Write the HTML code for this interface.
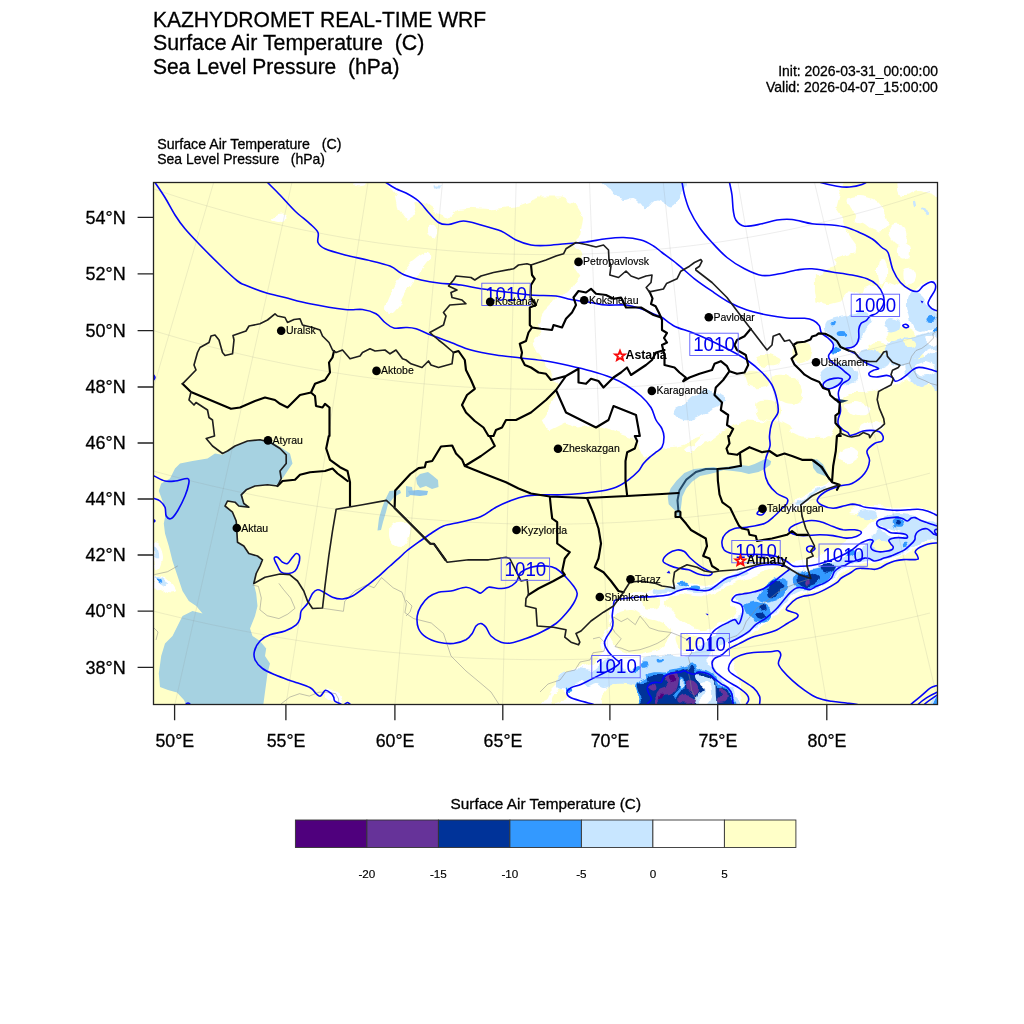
<!DOCTYPE html>
<html lang="en"><head><meta charset="utf-8"><title>KAZHYDROMET REAL-TIME WRF</title>
<style>
html,body{margin:0;padding:0;background:#fff;}
body{width:1024px;height:1024px;overflow:hidden;}
svg{display:block;will-change:transform;}
text{font-family:"Liberation Sans",sans-serif;fill:#000;}
.t1,.t2,.ax{stroke:#000;stroke-width:0.3px;}
.cb,.city{stroke:#000;stroke-width:0.15px;}
.t1{font-size:21.5px;}
.t2{font-size:14.4px;}
.ax{font-size:18.2px;}
.cb{font-size:11.7px;text-anchor:middle;}
.city{font-size:10.5px;}
.cap{font-size:12.3px;font-weight:bold;}
.cl{font-size:20.3px;fill:#0000f0;text-anchor:middle;}
</style></head><body>
<svg width="1024" height="1024" viewBox="0 0 1024 1024">
<rect width="1024" height="1024" fill="#fff"/>
<text class="t1" x="152.9" y="26.8" textLength="333.3" lengthAdjust="spacingAndGlyphs">KAZHYDROMET REAL-TIME WRF</text>
<text class="t1" x="152.9" y="50.4" textLength="271.5" lengthAdjust="spacingAndGlyphs" xml:space="preserve">Surface Air Temperature  (C)</text>
<text class="t1" x="152.9" y="73.9" textLength="246.5" lengthAdjust="spacingAndGlyphs" xml:space="preserve">Sea Level Pressure  (hPa)</text>
<text class="t2" x="778.2" y="75.9" textLength="159.7" lengthAdjust="spacingAndGlyphs">Init: 2026-03-31_00:00:00</text>
<text class="t2" x="766" y="91.5" textLength="171.9" lengthAdjust="spacingAndGlyphs">Valid: 2026-04-07_15:00:00</text>
<text class="t2" x="157.2" y="148.7" textLength="184.3" lengthAdjust="spacingAndGlyphs" xml:space="preserve">Surface Air Temperature   (C)</text>
<text class="t2" x="157.2" y="164.2" textLength="167.8" lengthAdjust="spacingAndGlyphs" xml:space="preserve">Sea Level Pressure   (hPa)</text>
<defs><clipPath id="mc"><rect x="153.5" y="182.5" width="784.0" height="522.0"/></clipPath></defs>
<g clip-path="url(#mc)">
<rect x="150" y="180" width="792" height="528" fill="#ffffc8"/>
<!-- 10_fill.svg -->
<defs><filter id="rough" x="150" y="178" width="792" height="530" filterUnits="userSpaceOnUse" color-interpolation-filters="sRGB"><feTurbulence type="fractalNoise" baseFrequency="0.09" numOctaves="2" seed="7" result="n"/><feDisplacementMap in="SourceGraphic" in2="n" scale="7" xChannelSelector="R" yChannelSelector="G"/></filter></defs>
<g filter="url(#rough)">
<rect x="140" y="170" width="812" height="546" fill="#ffffc8"/>
<path d="M384.0 180.0 L846.0 180.0 L840.0 190.0 L835.4 207.8 L841.3 216.6 L845.7 229.8 L851.5 238.6 L855.9 244.5 L854.5 253.2 L842.7 256.2 L833.9 259.0 L838.3 265.0 L828.0 268.0 L819.3 276.7 L814.9 273.7 L814.9 291.3 L816.4 301.6 L828.1 304.5 L839.8 301.6 L848.6 291.3 L861.8 294.3 L863.2 288.4 L872.0 285.5 L880.8 288.4 L885.2 282.5 L892.5 285.5 L898.4 282.5 L905.7 288.4 L914.5 291.3 L921.8 285.5 L930.6 281.0 L941.0 282.0 L941.0 387.5 L923.0 385.0 L908.0 380.0 L893.0 387.5 L880.0 389.0 L865.0 392.0 L848.0 392.0 L840.0 400.0 L838.0 412.0 L836.0 425.0 L834.5 431.0 L822.8 438.0 L808.7 435.6 L794.7 433.3 L790.0 426.2 L780.6 421.6 L771.2 421.6 L747.8 420.4 L733.7 423.9 L724.4 430.9 L705.6 433.3 L686.9 440.3 L663.4 447.3 L655.0 452.0 L644.1 457.7 L638.2 446.0 L632.3 437.2 L614.8 431.3 L597.2 425.5 L576.7 428.4 L565.0 422.5 L547.4 431.3 L541.5 419.6 L550.3 405.0 L559.1 387.4 L553.2 378.6 L547.4 366.9 L538.6 355.2 L532.7 343.4 L541.5 331.7 L537.0 325.0 L539.2 323.6 L545.1 308.9 L556.8 297.2 L568.5 291.3 L580.3 276.7 L574.4 267.9 L583.2 253.2 L571.5 244.5 L580.3 235.7 L583.2 218.1 L574.4 203.4 L562.7 197.6 L539.2 197.6 L515.8 206.4 L492.4 209.3 L468.9 207.8 L457.2 209.3 L448.4 218.1 L436.7 212.2 L425.0 203.4 L413.2 203.4 L416.2 215.2 L407.4 221.0 L398.6 209.3 L395.7 194.6Z" fill="#ffffff"/>
<path d="M757.0 356.0C758.8 354.7 764.3 353.7 768.0 354.0C771.7 354.3 777.3 356.2 779.0 358.0C780.7 359.8 780.2 363.7 778.0 365.0C775.8 366.3 769.5 366.5 766.0 366.0C762.5 365.5 758.5 363.7 757.0 362.0C755.5 360.3 755.2 357.3 757.0 356.0Z" fill="#ffffc8"/>
<path d="M745.0 372.0C746.3 369.3 752.2 369.7 756.0 370.0C759.8 370.3 765.7 371.7 768.0 374.0C770.3 376.3 771.3 381.7 770.0 384.0C768.7 386.3 763.7 387.7 760.0 388.0C756.3 388.3 750.5 388.7 748.0 386.0C745.5 383.3 743.7 374.7 745.0 372.0Z" fill="#ffffc8"/>
<path d="M772.0 378.0C773.5 374.5 780.7 374.7 785.0 375.0C789.3 375.3 795.0 377.2 798.0 380.0C801.0 382.8 803.0 388.2 803.0 392.0C803.0 395.8 800.8 401.0 798.0 403.0C795.2 405.0 789.7 405.2 786.0 404.0C782.3 402.8 778.3 400.3 776.0 396.0C773.7 391.7 770.5 381.5 772.0 378.0Z" fill="#ffffc8"/>
<path d="M757.0 402.0C758.7 399.5 764.3 399.3 768.0 400.0C771.7 400.7 777.0 403.3 779.0 406.0C781.0 408.7 781.8 413.5 780.0 416.0C778.2 418.5 771.7 421.2 768.0 421.0C764.3 420.8 759.8 418.2 758.0 415.0C756.2 411.8 755.3 404.5 757.0 402.0Z" fill="#ffffc8"/>
<path d="M795.0 343.0C796.8 340.8 802.2 341.2 805.0 342.0C807.8 342.8 811.2 345.3 812.0 348.0C812.8 350.7 812.0 355.7 810.0 358.0C808.0 360.3 802.7 362.5 800.0 362.0C797.3 361.5 794.8 358.2 794.0 355.0C793.2 351.8 793.2 345.2 795.0 343.0Z" fill="#ffffc8"/>
<path d="M890.0 330.0C892.0 328.0 896.3 326.0 900.0 326.0C903.7 326.0 909.0 327.7 912.0 330.0C915.0 332.3 918.7 337.3 918.0 340.0C917.3 342.7 911.7 345.3 908.0 346.0C904.3 346.7 899.3 345.3 896.0 344.0C892.7 342.7 889.0 340.3 888.0 338.0C887.0 335.7 888.0 332.0 890.0 330.0Z" fill="#ffffc8"/>
<path d="M868.0 345.0C869.3 342.7 876.7 341.5 880.0 342.0C883.3 342.5 887.3 345.7 888.0 348.0C888.7 350.3 886.7 354.7 884.0 356.0C881.3 357.3 874.7 357.8 872.0 356.0C869.3 354.2 866.7 347.3 868.0 345.0Z" fill="#ffffc8"/>
<path d="M900.0 352.0C901.7 350.0 910.8 349.3 915.0 350.0C919.2 350.7 924.2 353.7 925.0 356.0C925.8 358.3 923.3 363.0 920.0 364.0C916.7 365.0 908.3 364.0 905.0 362.0C901.7 360.0 898.3 354.0 900.0 352.0Z" fill="#ffffc8"/>
<path d="M271.0 219.0C270.5 217.7 273.8 214.8 276.0 214.0C278.2 213.2 282.5 213.2 284.0 214.0C285.5 214.8 285.8 217.7 285.0 219.0C284.2 220.3 281.3 222.0 279.0 222.0C276.7 222.0 271.5 220.3 271.0 219.0Z" fill="#ffffff"/>
<path d="M428.0 226.0C428.8 224.2 432.5 223.2 434.0 224.0C435.5 224.8 437.0 228.7 437.0 231.0C437.0 233.3 435.3 237.3 434.0 238.0C432.7 238.7 430.0 237.0 429.0 235.0C428.0 233.0 427.2 227.8 428.0 226.0Z" fill="#ffffff"/>
<path d="M425.0 253.0C428.0 252.3 431.3 254.3 430.0 258.0C428.7 261.7 420.8 269.7 417.0 275.0C413.2 280.3 410.0 285.0 407.0 290.0C404.0 295.0 401.7 301.2 399.0 305.0C396.3 308.8 393.2 312.5 391.0 313.0C388.8 313.5 385.8 311.5 386.0 308.0C386.2 304.5 389.3 297.5 392.0 292.0C394.7 286.5 398.7 280.0 402.0 275.0C405.3 270.0 408.2 265.7 412.0 262.0C415.8 258.3 422.0 253.7 425.0 253.0Z" fill="#ffffff"/>
<path d="M355.0 184.0C356.5 183.4 363.5 183.1 365.0 183.5C366.5 183.9 365.5 185.9 364.0 186.5C362.5 187.1 357.5 187.4 356.0 187.0C354.5 186.6 353.5 184.6 355.0 184.0Z" fill="#ffffff"/>
<path d="M848.0 200.0C849.3 198.0 854.3 196.3 858.0 196.0C861.7 195.7 866.7 197.0 870.0 198.0C873.3 199.0 875.7 200.0 878.0 202.0C880.3 204.0 882.3 206.7 884.0 210.0C885.7 213.3 888.3 218.3 888.0 222.0C887.7 225.7 884.7 230.7 882.0 232.0C879.3 233.3 875.2 231.3 872.0 230.0C868.8 228.7 865.8 225.3 863.0 224.0C860.2 222.7 856.2 223.7 855.0 222.0C853.8 220.3 856.8 216.3 856.0 214.0C855.2 211.7 851.3 210.3 850.0 208.0C848.7 205.7 846.7 202.0 848.0 200.0Z" fill="#ffffff"/>
<path d="M890.0 226.0C891.5 224.7 895.3 224.3 898.0 225.0C900.7 225.7 904.5 227.5 906.0 230.0C907.5 232.5 908.0 237.5 907.0 240.0C906.0 242.5 902.3 245.0 900.0 245.0C897.7 245.0 894.8 242.0 893.0 240.0C891.2 238.0 889.5 235.3 889.0 233.0C888.5 230.7 888.5 227.3 890.0 226.0Z" fill="#ffffff"/>
<path d="M899.0 246.0C900.3 244.5 904.2 242.3 906.0 243.0C907.8 243.7 909.7 247.5 910.0 250.0C910.3 252.5 909.7 256.5 908.0 258.0C906.3 259.5 901.7 260.0 900.0 259.0C898.3 258.0 898.2 254.2 898.0 252.0C897.8 249.8 897.7 247.5 899.0 246.0Z" fill="#ffffff"/>
<path d="M879.0 262.0C880.0 259.8 882.7 258.0 884.0 259.0C885.3 260.0 886.7 264.5 887.0 268.0C887.3 271.5 887.2 277.5 886.0 280.0C884.8 282.5 881.3 284.3 880.0 283.0C878.7 281.7 878.2 275.5 878.0 272.0C877.8 268.5 878.0 264.2 879.0 262.0Z" fill="#ffffff"/>
<path d="M904.0 270.0C905.2 267.7 910.0 267.2 912.0 268.0C914.0 268.8 915.8 272.7 916.0 275.0C916.2 277.3 914.8 280.8 913.0 282.0C911.2 283.2 906.5 284.0 905.0 282.0C903.5 280.0 902.8 272.3 904.0 270.0Z" fill="#ffffff"/>
<path d="M901.0 180.0C908.2 178.0 934.3 176.8 941.0 180.0C947.7 183.2 943.2 196.8 941.0 199.0C938.8 201.2 931.7 194.5 928.0 193.0C924.3 191.5 922.5 189.7 919.0 190.0C915.5 190.3 910.5 194.7 907.0 195.0C903.5 195.3 899.0 194.5 898.0 192.0C897.0 189.5 893.8 182.0 901.0 180.0Z" fill="#ffffff"/>
<path d="M914.0 200.0C914.2 198.7 915.5 198.0 916.0 199.0C916.5 200.0 917.2 204.7 917.0 206.0C916.8 207.3 915.5 208.0 915.0 207.0C914.5 206.0 913.8 201.3 914.0 200.0Z" fill="#c8e6ff"/>
<path d="M922.0 208.0C921.7 206.5 923.8 206.0 925.0 207.0C926.2 208.0 928.7 212.5 929.0 214.0C929.3 215.5 928.2 217.0 927.0 216.0C925.8 215.0 922.3 209.5 922.0 208.0Z" fill="#c8e6ff"/>
<path d="M791.7 430.0C797.5 429.0 824.8 429.0 830.8 430.0C836.8 431.0 831.1 434.7 828.0 436.0C824.9 437.3 817.3 438.0 812.0 438.0C806.7 438.0 799.4 437.3 796.0 436.0C792.6 434.7 785.9 431.0 791.7 430.0Z" fill="#ffffff"/>
<path d="M686.2 449.5C686.9 448.1 691.1 446.3 694.0 443.7C696.9 441.1 700.5 435.9 703.8 434.0C707.1 432.1 710.6 432.3 713.6 432.0C716.6 431.7 722.3 430.7 722.0 432.0C721.7 433.3 715.7 437.7 712.0 440.0C708.3 442.3 703.7 444.0 700.0 446.0C696.3 448.0 692.3 451.4 690.0 452.0C687.7 452.6 685.6 450.9 686.2 449.5Z" fill="#ffffff"/>
<path d="M845.0 405.0C845.7 403.0 852.2 401.5 856.0 402.0C859.8 402.5 866.3 405.7 868.0 408.0C869.7 410.3 868.7 415.0 866.0 416.0C863.3 417.0 855.5 415.8 852.0 414.0C848.5 412.2 844.3 407.0 845.0 405.0Z" fill="#ffffff"/>
<path d="M862.0 425.0C864.7 423.2 872.3 420.5 876.0 421.0C879.7 421.5 884.7 425.8 884.0 428.0C883.3 430.2 876.0 433.3 872.0 434.0C868.0 434.7 861.7 433.5 860.0 432.0C858.3 430.5 859.3 426.8 862.0 425.0Z" fill="#ffffff"/>
<path d="M326.0 690.0C327.5 689.5 330.8 689.0 333.0 690.0C335.2 691.0 337.5 693.8 339.0 696.0C340.5 698.2 342.5 701.7 342.0 703.0C341.5 704.3 338.3 704.8 336.0 704.0C333.7 703.2 330.0 699.8 328.0 698.0C326.0 696.2 324.3 694.3 324.0 693.0C323.7 691.7 324.5 690.5 326.0 690.0Z" fill="#ffffff"/>
<path d="M392.0 524.0C394.3 522.3 400.0 521.3 403.0 522.0C406.0 522.7 409.2 525.0 410.0 528.0C410.8 531.0 409.7 536.7 408.0 540.0C406.3 543.3 402.8 547.7 400.0 548.0C397.2 548.3 392.8 544.7 391.0 542.0C389.2 539.3 388.8 535.0 389.0 532.0C389.2 529.0 389.7 525.7 392.0 524.0Z" fill="#ffffff"/>
<path d="M154.0 543.0C155.0 539.5 158.5 542.8 160.0 545.0C161.5 547.2 163.0 552.2 163.0 556.0C163.0 559.8 161.5 566.3 160.0 568.0C158.5 569.7 155.0 570.2 154.0 566.0C153.0 561.8 153.0 546.5 154.0 543.0Z" fill="#ffffff"/>
<path d="M154.0 576.0C155.7 574.2 161.0 575.7 164.0 577.0C167.0 578.3 170.0 581.5 172.0 584.0C174.0 586.5 176.7 590.5 176.0 592.0C175.3 593.5 170.7 593.7 168.0 593.0C165.3 592.3 162.3 588.8 160.0 588.0C157.7 587.2 155.0 590.0 154.0 588.0C153.0 586.0 152.3 577.8 154.0 576.0Z" fill="#ffffff"/>
<path d="M612.0 603.0 L625.0 596.0 L640.0 592.0 L655.0 590.0 L668.0 587.0 L680.0 582.0 L695.0 584.0 L708.0 585.0 L718.0 579.0 L730.0 573.0 L745.0 568.0 L760.0 563.0 L775.0 560.0 L790.0 563.0 L805.0 560.0 L820.0 555.0 L835.0 548.0 L848.0 540.0 L860.0 533.0 L870.0 525.0 L878.0 516.0 L862.0 514.0 L850.0 512.0 L858.0 506.0 L875.0 506.0 L895.0 507.0 L910.0 506.0 L925.0 508.0 L941.0 512.0 L941.0 542.0 L926.0 543.0 L916.0 549.0 L906.0 555.0 L894.0 559.0 L881.0 562.0 L868.0 562.5 L856.0 565.0 L846.0 569.5 L840.0 575.0 L834.0 582.0 L824.0 588.0 L813.0 592.5 L801.0 594.5 L794.0 598.0 L786.0 606.0 L778.0 614.0 L770.0 620.0 L760.0 627.0 L750.0 635.0 L740.0 641.0 L731.0 646.0 L727.0 652.0 L733.0 662.0 L738.0 674.0 L741.0 686.0 L742.0 707.0 L540.0 707.0 L545.0 700.0 L550.0 690.0 L556.0 684.0 L560.0 674.0 L575.0 668.0 L590.0 664.0 L598.0 658.0 L603.0 650.0 L600.0 640.0 L606.0 630.0 L610.0 618.0 L610.0 608.0Z" fill="#ffffff"/>
<path d="M614.0 618.0C615.3 616.0 617.0 613.3 620.0 612.0C623.0 610.7 628.7 609.7 632.0 610.0C635.3 610.3 637.3 612.7 640.0 614.0C642.7 615.3 644.7 616.7 648.0 618.0C651.3 619.3 656.0 620.0 660.0 622.0C664.0 624.0 670.7 627.0 672.0 630.0C673.3 633.0 670.0 637.0 668.0 640.0C666.0 643.0 663.3 646.0 660.0 648.0C656.7 650.0 652.0 651.0 648.0 652.0C644.0 653.0 639.7 654.0 636.0 654.0C632.3 654.0 629.0 653.0 626.0 652.0C623.0 651.0 620.3 650.0 618.0 648.0C615.7 646.0 613.7 642.7 612.0 640.0C610.3 637.3 608.0 634.7 608.0 632.0C608.0 629.3 611.0 626.3 612.0 624.0C613.0 621.7 612.7 620.0 614.0 618.0Z" fill="#ffffc8"/>
<path d="M668.0 598.0C670.5 596.0 675.5 594.3 680.0 594.0C684.5 593.7 690.0 595.7 695.0 596.0C700.0 596.3 705.5 597.0 710.0 596.0C714.5 595.0 718.3 592.0 722.0 590.0C725.7 588.0 728.7 585.7 732.0 584.0C735.3 582.3 738.7 581.0 742.0 580.0C745.3 579.0 748.2 579.3 752.0 578.0C755.8 576.7 760.7 574.0 765.0 572.0C769.3 570.0 774.2 566.8 778.0 566.0C781.8 565.2 787.0 565.8 788.0 567.0C789.0 568.2 786.0 570.8 784.0 573.0C782.0 575.2 778.7 577.8 776.0 580.0C773.3 582.2 771.0 584.2 768.0 586.0C765.0 587.8 761.8 589.7 758.0 591.0C754.2 592.3 749.0 593.2 745.0 594.0C741.0 594.8 736.5 594.3 734.0 596.0C731.5 597.7 729.7 602.0 730.0 604.0C730.3 606.0 735.3 606.0 736.0 608.0C736.7 610.0 736.3 613.7 734.0 616.0C731.7 618.3 725.7 620.0 722.0 622.0C718.3 624.0 715.7 626.7 712.0 628.0C708.3 629.3 703.7 630.3 700.0 630.0C696.3 629.7 693.3 627.7 690.0 626.0C686.7 624.3 683.0 622.3 680.0 620.0C677.0 617.7 674.5 614.3 672.0 612.0C669.5 609.7 665.7 608.3 665.0 606.0C664.3 603.7 665.5 600.0 668.0 598.0Z" fill="#ffffc8"/>
<path d="M640.0 598.0C641.3 596.0 648.7 595.7 652.0 596.0C655.3 596.3 659.3 598.0 660.0 600.0C660.7 602.0 658.7 606.7 656.0 608.0C653.3 609.3 646.7 609.7 644.0 608.0C641.3 606.3 638.7 600.0 640.0 598.0Z" fill="#ffffc8"/>
<path d="M676.0 636.0C677.7 633.7 686.0 633.3 690.0 634.0C694.0 634.7 699.3 637.7 700.0 640.0C700.7 642.3 697.3 646.7 694.0 648.0C690.7 649.3 683.0 650.0 680.0 648.0C677.0 646.0 674.3 638.3 676.0 636.0Z" fill="#ffffc8"/>
<path d="M552.0 694.0C553.7 691.7 559.7 689.3 562.0 690.0C564.3 690.7 566.3 695.7 566.0 698.0C565.7 700.3 562.3 703.0 560.0 704.0C557.7 705.0 553.3 705.7 552.0 704.0C550.7 702.3 550.3 696.3 552.0 694.0Z" fill="#ffffc8"/>
<path d="M786.0 510.0C786.3 508.0 791.3 503.0 795.0 500.0C798.7 497.0 803.8 494.3 808.0 492.0C812.2 489.7 816.3 487.7 820.0 486.0C823.7 484.3 827.3 482.3 830.0 482.0C832.7 481.7 836.3 482.7 836.0 484.0C835.7 485.3 831.5 487.8 828.0 490.0C824.5 492.2 819.2 494.5 815.0 497.0C810.8 499.5 806.7 502.5 803.0 505.0C799.3 507.5 795.8 511.2 793.0 512.0C790.2 512.8 785.7 512.0 786.0 510.0Z" fill="#ffffff"/>
<path d="M795.0 504.0C796.3 502.3 802.2 498.5 806.0 496.0C809.8 493.5 814.7 490.7 818.0 489.0C821.3 487.3 825.7 485.7 826.0 486.0C826.3 486.3 823.0 488.8 820.0 491.0C817.0 493.2 811.7 496.5 808.0 499.0C804.3 501.5 800.2 505.2 798.0 506.0C795.8 506.8 793.7 505.7 795.0 504.0Z" fill="#c8e6ff"/>
<path d="M660.0 436.0C665.0 434.3 685.7 434.7 690.0 436.0C694.3 437.3 689.0 442.2 686.0 444.0C683.0 445.8 676.3 446.7 672.0 447.0C667.7 447.3 662.0 447.8 660.0 446.0C658.0 444.2 655.0 437.7 660.0 436.0Z" fill="#ffffff"/>
<path d="M840.0 452.0C842.0 450.0 848.7 447.5 852.0 448.0C855.3 448.5 860.3 452.7 860.0 455.0C859.7 457.3 853.3 461.2 850.0 462.0C846.7 462.8 841.7 461.7 840.0 460.0C838.3 458.3 838.0 454.0 840.0 452.0Z" fill="#ffffff"/>
<path d="M606.0 180.0C617.8 178.3 668.5 177.6 681.0 180.0C693.5 182.4 682.5 190.2 681.0 194.6C679.5 199.0 675.9 205.4 672.0 206.4C668.1 207.4 661.9 200.0 657.6 200.5C653.3 201.0 648.8 208.7 646.0 209.3C643.2 209.9 643.1 205.9 641.0 204.0C638.9 202.1 636.4 198.7 633.5 198.0C630.6 197.3 626.8 200.3 623.5 200.0C620.2 199.7 615.8 197.7 613.5 196.0C611.2 194.3 611.2 192.7 610.0 190.0C608.8 187.3 594.2 181.7 606.0 180.0Z" fill="#c8e6ff"/>
<path d="M433.5 184.5 L442.0 184.5 L441.0 187.5 L434.0 187.5Z" fill="#c8e6ff"/>
<path d="M692.0 396.0C694.7 394.0 696.7 392.8 700.0 392.0C703.3 391.2 708.3 390.7 712.0 391.0C715.7 391.3 719.7 392.5 722.0 394.0C724.3 395.5 726.3 398.0 726.0 400.0C725.7 402.0 722.3 404.3 720.0 406.0C717.7 407.7 714.7 408.7 712.0 410.0C709.3 411.3 707.0 412.5 704.0 414.0C701.0 415.5 697.7 418.0 694.0 419.0C690.3 420.0 685.3 420.7 682.0 420.0C678.7 419.3 675.0 417.0 674.0 415.0C673.0 413.0 674.3 409.8 676.0 408.0C677.7 406.2 681.3 406.0 684.0 404.0C686.7 402.0 689.3 398.0 692.0 396.0Z" fill="#c8e6ff"/>
<path d="M664.0 186.0C666.2 183.5 673.5 183.3 676.0 185.0C678.5 186.7 680.0 192.7 679.0 196.0C678.0 199.3 672.7 204.3 670.0 205.0C667.3 205.7 664.0 203.2 663.0 200.0C662.0 196.8 661.8 188.5 664.0 186.0Z" fill="#c8e6ff"/>
<path d="M826.0 322.0C827.8 320.0 831.0 319.2 835.0 318.0C839.0 316.8 845.5 316.0 850.0 315.0C854.5 314.0 858.7 311.8 862.0 312.0C865.3 312.2 868.3 314.3 870.0 316.0C871.7 317.7 872.7 319.7 872.0 322.0C871.3 324.3 868.0 327.0 866.0 330.0C864.0 333.0 862.3 337.2 860.0 340.0C857.7 342.8 855.0 345.3 852.0 347.0C849.0 348.7 845.0 350.3 842.0 350.0C839.0 349.7 836.3 347.0 834.0 345.0C831.7 343.0 829.7 340.5 828.0 338.0C826.3 335.5 824.3 332.7 824.0 330.0C823.7 327.3 824.2 324.0 826.0 322.0Z" fill="#c8e6ff"/>
<path d="M911.0 292.0C913.7 290.8 919.2 293.8 922.0 296.0C924.8 298.2 925.5 302.3 928.0 305.0C930.5 307.7 934.8 309.8 937.0 312.0C939.2 314.2 940.3 314.7 941.0 318.0C941.7 321.3 942.8 330.3 941.0 332.0C939.2 333.7 933.5 328.0 930.0 328.0C926.5 328.0 923.0 332.3 920.0 332.0C917.0 331.7 914.0 328.8 912.0 326.0C910.0 323.2 909.0 318.8 908.0 315.0C907.0 311.2 905.5 306.8 906.0 303.0C906.5 299.2 908.3 293.2 911.0 292.0Z" fill="#c8e6ff"/>
<path d="M890.0 342.0C892.7 339.7 896.3 338.8 900.0 338.0C903.7 337.2 907.8 337.8 912.0 337.0C916.2 336.2 920.2 334.2 925.0 333.0C929.8 331.8 938.3 327.8 941.0 330.0C943.7 332.2 942.8 342.7 941.0 346.0C939.2 349.3 933.5 348.3 930.0 350.0C926.5 351.7 923.3 354.0 920.0 356.0C916.7 358.0 913.3 360.3 910.0 362.0C906.7 363.7 903.3 366.0 900.0 366.0C896.7 366.0 892.7 364.3 890.0 362.0C887.3 359.7 884.0 355.3 884.0 352.0C884.0 348.7 887.3 344.3 890.0 342.0Z" fill="#c8e6ff"/>
<path d="M905.0 364.0C906.5 361.7 911.7 360.2 915.0 359.0C918.3 357.8 920.7 358.2 925.0 357.0C929.3 355.8 938.3 346.5 941.0 352.0C943.7 357.5 942.8 384.5 941.0 390.0C939.2 395.5 933.5 385.5 930.0 385.0C926.5 384.5 923.0 387.7 920.0 387.0C917.0 386.3 914.3 383.3 912.0 381.0C909.7 378.7 907.2 375.8 906.0 373.0C904.8 370.2 903.5 366.3 905.0 364.0Z" fill="#c8e6ff"/>
<path d="M884.0 322.0C884.7 319.7 889.3 318.0 892.0 318.0C894.7 318.0 899.0 320.0 900.0 322.0C901.0 324.0 900.0 328.3 898.0 330.0C896.0 331.7 890.3 333.3 888.0 332.0C885.7 330.7 883.3 324.3 884.0 322.0Z" fill="#c8e6ff"/>
<path d="M915.0 366.0C915.8 363.7 921.8 362.0 925.0 362.0C928.2 362.0 932.8 364.0 934.0 366.0C935.2 368.0 934.3 372.3 932.0 374.0C929.7 375.7 922.8 377.3 920.0 376.0C917.2 374.7 914.2 368.3 915.0 366.0Z" fill="#ffffff"/>
<path d="M924.0 338.0C924.7 336.3 931.7 335.3 934.0 336.0C936.3 336.7 938.7 340.3 938.0 342.0C937.3 343.7 932.3 346.7 930.0 346.0C927.7 345.3 923.3 339.7 924.0 338.0Z" fill="#ffffff"/>
<path d="M822.0 372.0C823.7 369.7 827.0 367.7 830.0 366.0C833.0 364.3 836.7 362.0 840.0 362.0C843.3 362.0 847.0 364.3 850.0 366.0C853.0 367.7 857.0 369.7 858.0 372.0C859.0 374.3 858.0 378.0 856.0 380.0C854.0 382.0 849.3 382.7 846.0 384.0C842.7 385.3 839.3 387.7 836.0 388.0C832.7 388.3 828.7 387.3 826.0 386.0C823.3 384.7 820.7 382.3 820.0 380.0C819.3 377.7 820.3 374.3 822.0 372.0Z" fill="#c8e6ff"/>
<path d="M858.0 352.0C859.0 349.7 864.3 348.0 868.0 348.0C871.7 348.0 876.3 350.0 880.0 352.0C883.7 354.0 889.3 357.3 890.0 360.0C890.7 362.7 887.0 367.0 884.0 368.0C881.0 369.0 875.7 367.0 872.0 366.0C868.3 365.0 864.3 364.3 862.0 362.0C859.7 359.7 857.0 354.3 858.0 352.0Z" fill="#c8e6ff"/>
<path d="M902.0 341.0C902.7 339.7 909.7 338.5 912.0 339.0C914.3 339.5 916.7 342.7 916.0 344.0C915.3 345.3 910.3 347.5 908.0 347.0C905.7 346.5 901.3 342.3 902.0 341.0Z" fill="#ffffc8"/>
<ellipse cx="833.5" cy="323.5" rx="2.9" ry="1.8" fill="#3399ff"/>
<ellipse cx="842.0" cy="333.5" rx="4.3" ry="2.6" fill="#3399ff"/>
<ellipse cx="834.5" cy="351.0" rx="5.5" ry="3.4" fill="#3399ff"/>
<ellipse cx="931.0" cy="318.5" rx="5.5" ry="3.4" fill="#3399ff"/>
<ellipse cx="936.0" cy="330.0" rx="3.2" ry="2.0" fill="#3399ff"/>
<path d="M713.0 640.0C713.0 637.5 715.8 633.0 718.0 630.0C720.2 627.0 723.5 623.8 726.0 622.0C728.5 620.2 730.7 620.0 733.0 619.0C735.3 618.0 738.4 617.4 740.0 616.0C741.6 614.6 742.7 612.8 742.9 610.8C743.1 608.8 742.5 606.1 741.0 604.0C739.5 601.9 733.7 599.5 734.0 598.0C734.3 596.5 739.5 595.7 742.9 594.7C746.3 593.7 750.7 593.3 754.6 591.8C758.5 590.3 762.9 588.1 766.3 585.9C769.7 583.7 772.2 580.8 775.1 578.6C778.0 576.4 781.5 574.2 783.9 572.7C786.3 571.2 786.9 570.2 789.8 569.8C792.7 569.4 797.6 570.8 801.5 570.5C805.4 570.2 809.3 569.0 813.2 568.0C817.1 567.0 820.9 565.8 824.8 564.7C828.7 563.6 832.8 562.7 836.4 561.3C840.0 559.9 843.1 558.0 846.4 556.4C849.7 554.8 853.5 553.1 856.3 551.4C859.1 549.7 860.7 547.7 863.0 546.0C865.3 544.3 867.8 543.0 870.0 541.0C872.2 539.0 874.7 536.8 876.0 534.0C877.3 531.2 876.7 526.7 878.0 524.0C879.3 521.3 881.0 519.5 884.0 518.0C887.0 516.5 891.7 515.3 896.0 515.0C900.3 514.7 905.7 515.2 910.0 516.0C914.3 516.8 916.8 518.7 922.0 520.0C927.2 521.3 937.8 520.7 941.0 524.0C944.2 527.3 943.7 537.2 941.0 540.0C938.3 542.8 929.3 539.8 925.0 541.0C920.7 542.2 918.3 545.0 915.0 547.0C911.7 549.0 908.7 551.3 905.0 553.0C901.3 554.7 897.2 555.8 893.0 557.0C888.8 558.2 884.2 559.5 880.0 560.0C875.8 560.5 872.2 559.5 868.0 560.0C863.8 560.5 858.8 561.8 855.0 563.0C851.2 564.2 847.8 565.3 845.0 567.0C842.2 568.7 840.2 570.8 838.0 573.0C835.8 575.2 834.7 577.8 832.0 580.0C829.3 582.2 825.3 584.3 822.0 586.0C818.7 587.7 815.7 589.0 812.0 590.0C808.3 591.0 803.3 591.0 800.0 592.0C796.7 593.0 794.7 594.0 792.0 596.0C789.3 598.0 786.7 601.3 784.0 604.0C781.3 606.7 778.7 609.7 776.0 612.0C773.3 614.3 771.0 615.8 768.0 618.0C765.0 620.2 761.3 622.5 758.0 625.0C754.7 627.5 751.3 630.7 748.0 633.0C744.7 635.3 741.3 637.3 738.0 639.0C734.7 640.7 731.3 642.0 728.0 643.0C724.7 644.0 720.5 645.5 718.0 645.0C715.5 644.5 713.0 642.5 713.0 640.0Z" fill="#c8e6ff"/>
<path d="M873.0 543.0C874.2 541.7 877.5 540.3 880.0 540.0C882.5 539.7 886.0 540.0 888.0 541.0C890.0 542.0 892.0 544.5 892.0 546.0C892.0 547.5 890.2 549.2 888.0 550.0C885.8 550.8 881.5 551.3 879.0 551.0C876.5 550.7 874.0 549.3 873.0 548.0C872.0 546.7 871.8 544.3 873.0 543.0Z" fill="#ffffc8"/>
<path d="M880.0 526.0C881.3 525.5 886.7 527.0 890.0 528.0C893.3 529.0 897.3 530.8 900.0 532.0C902.7 533.2 906.0 534.2 906.0 535.0C906.0 535.8 902.7 536.8 900.0 537.0C897.3 537.2 893.0 537.0 890.0 536.0C887.0 535.0 883.7 532.7 882.0 531.0C880.3 529.3 878.7 526.5 880.0 526.0Z" fill="#ffffff"/>
<path d="M858.0 512.0C859.3 511.0 863.0 510.0 866.0 510.0C869.0 510.0 874.7 510.7 876.0 512.0C877.3 513.3 876.0 516.8 874.0 518.0C872.0 519.2 866.7 519.3 864.0 519.0C861.3 518.7 859.0 517.2 858.0 516.0C857.0 514.8 856.7 513.0 858.0 512.0Z" fill="#c8e6ff"/>
<path d="M744.0 606.0C744.7 603.7 749.0 602.5 752.0 602.0C755.0 601.5 759.0 602.0 762.0 603.0C765.0 604.0 768.3 605.8 770.0 608.0C771.7 610.2 772.7 613.7 772.0 616.0C771.3 618.3 768.7 621.0 766.0 622.0C763.3 623.0 759.0 623.0 756.0 622.0C753.0 621.0 750.0 618.7 748.0 616.0C746.0 613.3 743.3 608.3 744.0 606.0Z" fill="#3399ff"/>
<path d="M758.0 596.0C758.3 593.7 761.7 590.5 764.0 588.0C766.3 585.5 769.3 582.7 772.0 581.0C774.7 579.3 777.5 578.2 780.0 578.0C782.5 577.8 786.0 578.0 787.0 580.0C788.0 582.0 787.2 587.0 786.0 590.0C784.8 593.0 782.7 596.0 780.0 598.0C777.3 600.0 773.0 601.3 770.0 602.0C767.0 602.7 764.0 603.0 762.0 602.0C760.0 601.0 757.7 598.3 758.0 596.0Z" fill="#3399ff"/>
<path d="M793.0 578.0C793.7 575.7 796.8 573.5 800.0 572.0C803.2 570.5 808.0 570.0 812.0 569.0C816.0 568.0 820.0 566.7 824.0 566.0C828.0 565.3 834.3 564.0 836.0 565.0C837.7 566.0 835.3 569.5 834.0 572.0C832.7 574.5 830.7 577.7 828.0 580.0C825.3 582.3 821.7 584.5 818.0 586.0C814.3 587.5 809.7 589.0 806.0 589.0C802.3 589.0 798.2 587.8 796.0 586.0C793.8 584.2 792.3 580.3 793.0 578.0Z" fill="#3399ff"/>
<path d="M770.0 584.0C771.0 581.7 774.3 579.3 776.0 580.0C777.7 580.7 780.0 585.3 780.0 588.0C780.0 590.7 777.7 595.0 776.0 596.0C774.3 597.0 771.0 596.0 770.0 594.0C769.0 592.0 769.0 586.3 770.0 584.0Z" fill="#3399ff"/>
<path d="M892.0 520.0C892.7 518.7 896.0 517.8 898.0 518.0C900.0 518.2 903.3 519.7 904.0 521.0C904.7 522.3 903.7 525.2 902.0 526.0C900.3 526.8 895.7 527.0 894.0 526.0C892.3 525.0 891.3 521.3 892.0 520.0Z" fill="#3399ff"/>
<path d="M903.0 544.0C903.5 543.2 906.2 542.5 907.0 543.0C907.8 543.5 908.5 546.2 908.0 547.0C907.5 547.8 904.8 548.5 904.0 548.0C903.2 547.5 902.5 544.8 903.0 544.0Z" fill="#3399ff"/>
<path d="M846.0 553.0C846.8 551.8 850.3 550.0 852.0 550.0C853.7 550.0 856.0 551.8 856.0 553.0C856.0 554.2 853.5 556.3 852.0 557.0C850.5 557.7 848.0 557.7 847.0 557.0C846.0 556.3 845.2 554.2 846.0 553.0Z" fill="#3399ff"/>
<path d="M760.5 607.0C761.0 606.2 764.0 605.5 765.0 606.0C766.0 606.5 767.0 609.2 766.5 610.0C766.0 610.8 763.0 611.5 762.0 611.0C761.0 610.5 760.0 607.8 760.5 607.0Z" fill="#003399"/>
<path d="M756.0 614.0C757.0 613.2 760.3 612.5 762.0 613.0C763.7 613.5 766.2 615.8 766.0 617.0C765.8 618.2 762.7 619.8 761.0 620.0C759.3 620.2 756.8 619.0 756.0 618.0C755.2 617.0 755.0 614.8 756.0 614.0Z" fill="#003399"/>
<path d="M766.5 590.0C767.2 588.7 769.6 587.7 771.0 588.0C772.4 588.3 774.8 590.5 775.0 592.0C775.2 593.5 773.3 596.3 772.0 597.0C770.7 597.7 767.9 597.2 767.0 596.0C766.1 594.8 765.8 591.3 766.5 590.0Z" fill="#003399"/>
<path d="M775.0 583.0C775.3 581.7 778.8 580.5 780.0 581.0C781.2 581.5 782.8 584.7 782.5 586.0C782.2 587.3 779.2 589.5 778.0 589.0C776.8 588.5 774.7 584.3 775.0 583.0Z" fill="#003399"/>
<path d="M798.0 576.0C799.2 574.3 803.3 573.3 806.0 573.0C808.7 572.7 811.7 573.2 814.0 574.0C816.3 574.8 819.7 576.3 820.0 578.0C820.3 579.7 818.3 582.7 816.0 584.0C813.7 585.3 808.8 586.2 806.0 586.0C803.2 585.8 800.3 584.7 799.0 583.0C797.7 581.3 796.8 577.7 798.0 576.0Z" fill="#003399"/>
<path d="M820.0 566.0C820.8 564.8 825.3 564.5 828.0 564.5C830.7 564.5 835.3 564.8 836.0 566.0C836.7 567.2 834.2 571.0 832.0 572.0C829.8 573.0 825.0 573.0 823.0 572.0C821.0 571.0 819.2 567.2 820.0 566.0Z" fill="#003399"/>
<path d="M770.0 584.0C770.8 582.0 773.5 581.0 775.0 582.0C776.5 583.0 779.0 587.7 779.0 590.0C779.0 592.3 776.5 595.3 775.0 596.0C773.5 596.7 770.8 596.0 770.0 594.0C769.2 592.0 769.2 586.0 770.0 584.0Z" fill="#003399"/>
<path d="M895.0 521.0C895.3 520.2 898.0 519.7 899.0 520.0C900.0 520.3 901.3 522.2 901.0 523.0C900.7 523.8 898.0 524.8 897.0 524.5C896.0 524.2 894.7 521.8 895.0 521.0Z" fill="#003399"/>
<path d="M805.5 580.0C806.0 579.3 808.3 579.0 809.0 579.5C809.7 580.0 810.0 582.3 809.5 583.0C809.0 583.7 806.7 584.0 806.0 583.5C805.3 583.0 805.0 580.7 805.5 580.0Z" fill="#663399"/>
<path d="M655.0 590.0C656.7 588.8 660.8 588.7 665.0 588.0C669.2 587.3 675.0 586.0 680.0 586.0C685.0 586.0 690.3 587.8 695.0 588.0C699.7 588.2 704.2 588.2 708.0 587.0C711.8 585.8 714.7 582.8 718.0 581.0C721.3 579.2 724.3 577.3 728.0 576.0C731.7 574.7 736.7 573.8 740.0 573.0C743.3 572.2 746.7 570.8 748.0 571.0C749.3 571.2 749.3 573.0 748.0 574.0C746.7 575.0 743.0 575.8 740.0 577.0C737.0 578.2 733.3 579.3 730.0 581.0C726.7 582.7 723.3 585.2 720.0 587.0C716.7 588.8 714.2 591.0 710.0 592.0C705.8 593.0 700.0 593.2 695.0 593.0C690.0 592.8 685.0 591.0 680.0 591.0C675.0 591.0 669.2 592.3 665.0 593.0C660.8 593.7 656.7 595.5 655.0 595.0C653.3 594.5 653.3 591.2 655.0 590.0Z" fill="#c8e6ff"/>
<path d="M690.0 586.5C691.2 585.9 695.2 585.2 697.0 585.5C698.8 585.8 701.3 587.2 701.0 588.0C700.7 588.8 696.8 589.8 695.0 590.0C693.2 590.2 690.8 589.6 690.0 589.0C689.2 588.4 688.8 587.1 690.0 586.5Z" fill="#3399ff"/>
<path d="M676.0 584.0C676.7 583.2 683.7 582.3 686.0 582.5C688.3 582.7 690.7 584.2 690.0 585.0C689.3 585.8 684.3 587.2 682.0 587.0C679.7 586.8 675.3 584.8 676.0 584.0Z" fill="#3399ff"/>
<path d="M556.0 684.5C555.9 681.8 557.7 676.4 561.5 673.7C565.3 671.0 573.6 668.9 578.7 668.3C583.8 667.7 588.5 670.7 592.0 670.0C595.5 669.3 596.7 665.7 600.0 664.0C603.3 662.3 607.3 658.7 612.0 660.0C616.7 661.3 624.6 670.7 628.2 672.0C631.8 673.3 631.7 669.3 633.7 668.0C635.8 666.7 639.1 665.5 640.5 664.0C641.9 662.5 640.3 660.2 641.9 659.0C643.5 657.8 647.8 657.7 650.1 657.0C652.4 656.3 652.8 655.3 655.5 655.0C658.2 654.7 663.8 654.8 666.5 655.0C669.2 655.2 669.7 655.9 672.0 656.4C674.3 656.9 677.5 658.0 680.2 657.8C682.9 657.6 686.6 655.9 688.4 655.0C690.2 654.1 689.7 652.8 691.1 652.3C692.5 651.8 694.8 652.1 696.6 652.3C698.4 652.5 700.2 651.9 702.0 653.7C703.8 655.5 705.7 660.7 707.5 663.2C709.3 665.7 711.2 666.9 713.0 668.7C714.8 670.5 716.6 672.2 718.4 674.2C720.2 676.2 721.6 679.0 723.9 681.0C726.2 683.0 730.3 684.2 732.1 686.5C733.9 688.8 734.6 691.3 734.8 694.7C735.0 698.1 749.9 705.0 733.5 707.0C717.1 709.0 653.3 708.6 636.4 707.0C619.5 705.4 634.1 699.4 632.3 697.4C630.5 695.4 627.5 695.9 625.5 694.7C623.5 693.5 622.2 691.5 620.0 690.0C617.8 688.5 614.7 686.3 612.0 686.0C609.3 685.7 606.7 688.3 604.0 688.0C601.3 687.7 598.7 684.2 596.0 684.0C593.3 683.8 590.7 687.2 588.0 687.0C585.3 686.8 583.0 683.2 580.0 683.0C577.0 682.8 573.0 684.8 570.0 686.0C567.0 687.2 564.3 690.2 562.0 690.0C559.7 689.8 556.1 687.2 556.0 684.5Z" fill="#c8e6ff"/>
<path d="M606.0 690.0C607.7 686.2 610.7 685.2 614.0 684.0C617.3 682.8 622.3 682.7 626.0 683.0C629.7 683.3 633.7 684.2 636.0 686.0C638.3 687.8 639.7 690.5 640.0 694.0C640.3 697.5 644.0 704.8 638.0 707.0C632.0 709.2 609.3 709.8 604.0 707.0C598.7 704.2 604.3 693.8 606.0 690.0Z" fill="#ffffc8"/>
<path d="M696.0 653.0C695.3 650.7 698.3 648.2 700.0 646.0C701.7 643.8 703.8 641.7 706.0 640.0C708.2 638.3 710.7 636.0 713.0 636.0C715.3 636.0 719.5 638.0 720.0 640.0C720.5 642.0 717.7 645.7 716.0 648.0C714.3 650.3 712.0 652.0 710.0 654.0C708.0 656.0 706.3 660.2 704.0 660.0C701.7 659.8 696.7 655.3 696.0 653.0Z" fill="#c8e6ff"/>
<path d="M636.0 687.0C636.5 685.0 638.3 682.5 640.0 681.0C641.7 679.5 645.0 679.2 646.0 678.0C647.0 676.8 644.7 675.1 646.0 674.0C647.3 672.9 651.2 671.9 654.0 671.5C656.8 671.1 660.2 671.8 663.0 671.5C665.8 671.2 668.2 670.1 671.0 669.5C673.8 668.9 677.2 668.7 680.0 668.0C682.8 667.3 685.5 666.1 688.0 665.5C690.5 664.9 693.3 663.8 695.0 664.5C696.7 665.2 696.7 669.2 698.0 670.0C699.3 670.8 701.0 669.2 703.0 669.5C705.0 669.8 707.8 670.4 710.0 671.5C712.2 672.6 714.7 674.2 716.0 676.0C717.3 677.8 717.2 680.3 718.0 682.0C718.8 683.7 719.7 685.4 721.0 686.0C722.3 686.6 724.4 685.0 726.0 685.5C727.6 686.0 729.5 687.1 730.5 689.0C731.5 690.9 731.8 694.0 732.0 697.0C732.2 700.0 746.5 705.3 732.0 707.0C717.5 708.7 660.3 708.2 645.0 707.0C629.7 705.8 641.3 702.3 640.0 700.0C638.7 697.7 637.7 695.2 637.0 693.0C636.3 690.8 635.5 689.0 636.0 687.0Z" fill="#3399ff"/>
<path d="M640.5 663.2C641.5 662.4 646.0 661.9 647.3 662.5C648.5 663.1 649.0 666.2 648.0 667.0C647.0 667.8 642.2 668.1 641.0 667.5C639.8 666.9 639.5 664.0 640.5 663.2Z" fill="#3399ff"/>
<path d="M657.0 659.0C657.8 658.5 661.6 658.5 662.4 659.0C663.2 659.5 662.8 661.5 662.0 662.0C661.2 662.5 658.3 662.7 657.5 662.2C656.7 661.7 656.2 659.5 657.0 659.0Z" fill="#3399ff"/>
<path d="M566.0 688.0C566.5 687.2 569.2 686.2 570.0 686.5C570.8 686.8 571.5 689.2 571.0 690.0C570.5 690.8 567.8 691.3 567.0 691.0C566.2 690.7 565.5 688.8 566.0 688.0Z" fill="#3399ff"/>
<path d="M634.0 668.0C634.3 667.2 637.0 665.8 638.0 666.0C639.0 666.2 640.3 668.2 640.0 669.0C639.7 669.8 637.0 671.2 636.0 671.0C635.0 670.8 633.7 668.8 634.0 668.0Z" fill="#3399ff"/>
<path d="M637.8 685.1C638.3 683.5 640.3 683.1 641.9 682.4C643.5 681.7 646.4 681.9 647.3 681.0C648.2 680.1 645.9 678.0 647.3 676.9C648.7 675.8 652.8 674.7 655.5 674.2C658.2 673.8 661.0 674.6 663.8 674.2C666.5 673.9 669.3 672.7 672.0 672.1C674.7 671.5 677.5 671.5 680.2 670.8C682.9 670.1 686.1 668.6 688.4 668.0C690.7 667.4 692.4 666.5 693.8 667.3C695.2 668.1 695.2 672.0 696.6 672.8C698.0 673.6 700.0 671.9 702.0 672.1C704.0 672.3 706.9 673.2 708.9 674.2C710.9 675.2 713.2 676.7 714.3 678.3C715.4 679.9 715.0 682.2 715.7 683.8C716.4 685.4 717.0 687.3 718.4 687.9C719.8 688.5 722.3 686.8 723.9 687.2C725.5 687.7 727.1 688.9 728.0 690.6C728.9 692.3 729.2 694.7 729.4 697.4C729.6 700.1 743.1 705.4 729.4 707.0C715.7 708.6 661.9 708.4 647.3 707.0C632.7 705.6 643.3 701.3 641.9 698.8C640.5 696.3 639.8 694.3 639.1 692.0C638.4 689.7 637.3 686.7 637.8 685.1Z" fill="#003399"/>
<path d="M696.6 675.5C698.2 674.8 704.5 675.8 707.5 676.9C710.5 678.0 712.9 679.9 714.3 682.4C715.7 684.9 715.7 687.9 715.7 692.0C715.7 696.1 717.5 704.5 714.3 707.0C711.1 709.5 699.5 709.0 696.6 707.0C693.7 705.0 695.7 697.4 696.6 694.7C697.5 692.0 700.2 691.7 702.0 690.6C703.8 689.5 707.5 688.8 707.5 687.9C707.5 687.0 703.6 686.2 702.0 685.1C700.4 684.0 698.8 682.6 697.9 681.0C697.0 679.4 695.0 676.2 696.6 675.5Z" fill="#c8e6ff"/>
<path d="M700.0 684.0C700.0 682.5 704.2 681.7 706.0 682.0C707.8 682.3 710.0 683.7 711.0 686.0C712.0 688.3 712.5 693.0 712.0 696.0C711.5 699.0 709.8 702.7 708.0 704.0C706.2 705.3 702.3 705.3 701.0 704.0C699.7 702.7 699.2 698.2 700.0 696.0C700.8 693.8 706.0 693.0 706.0 691.0C706.0 689.0 700.0 685.5 700.0 684.0Z" fill="#ffffff"/>
<path d="M680.2 676.9C681.0 676.4 683.5 676.7 684.3 678.3C685.1 679.9 685.4 684.5 684.9 686.5C684.4 688.5 682.8 689.2 681.5 690.6C680.2 692.0 678.5 693.3 677.4 694.7C676.3 696.1 675.4 698.8 674.7 698.8C674.0 698.8 672.6 696.5 673.3 694.7C674.0 692.9 677.8 690.2 678.8 687.9C679.8 685.6 679.3 682.8 679.5 681.0C679.7 679.2 679.4 677.4 680.2 676.9Z" fill="#3399ff"/>
<path d="M681.0 679.0C681.6 678.3 683.1 678.8 683.5 680.0C683.9 681.2 684.0 684.5 683.5 686.0C683.0 687.5 681.1 689.3 680.5 689.0C679.9 688.7 679.9 685.7 680.0 684.0C680.1 682.3 680.4 679.7 681.0 679.0Z" fill="#c8e6ff"/>
<path d="M666.5 675.5C667.9 674.4 672.8 672.8 674.7 672.8C676.6 672.8 677.7 673.7 678.1 675.5C678.5 677.3 678.0 681.3 677.4 683.8C676.8 686.3 676.1 689.2 674.7 690.6C673.3 692.0 671.0 691.5 669.2 692.0C667.4 692.5 665.4 692.4 663.8 693.3C662.2 694.2 660.8 696.0 659.6 697.4C658.5 698.8 657.5 702.0 656.9 701.5C656.3 701.0 655.8 696.5 656.2 694.7C656.7 692.9 657.9 691.7 659.6 690.6C661.3 689.5 664.9 689.0 666.5 687.9C668.1 686.8 669.2 685.2 669.2 683.8C669.2 682.4 667.0 681.1 666.5 679.7C666.0 678.3 665.1 676.6 666.5 675.5Z" fill="#663399" stroke="#663399" stroke-width="1.6" stroke-linejoin="round"/>
<path d="M648.7 685.1C649.2 684.1 653.1 683.7 654.2 684.4C655.3 685.1 656.0 688.2 655.5 689.2C655.0 690.2 652.5 691.3 651.4 690.6C650.3 689.9 648.2 686.1 648.7 685.1Z" fill="#663399" stroke="#663399" stroke-width="1.6" stroke-linejoin="round"/>
<path d="M687.0 683.8C687.5 682.4 689.5 680.8 691.1 681.0C692.7 681.2 695.7 683.3 696.6 685.1C697.5 686.9 697.3 690.6 696.6 692.0C695.9 693.4 693.9 693.8 692.5 693.3C691.1 692.8 689.3 690.8 688.4 689.2C687.5 687.6 686.5 685.2 687.0 683.8Z" fill="#663399" stroke="#663399" stroke-width="1.6" stroke-linejoin="round"/>
<path d="M678.8 697.4C679.9 696.3 683.1 694.7 685.6 694.7C688.1 694.7 692.4 696.3 693.8 697.4C695.2 698.5 695.4 700.6 693.8 701.5C692.2 702.4 686.8 702.9 684.3 702.9C681.8 702.9 679.7 702.4 678.8 701.5C677.9 700.6 677.7 698.5 678.8 697.4Z" fill="#663399" stroke="#663399" stroke-width="1.6" stroke-linejoin="round"/>
<path d="M719.8 689.2C720.1 688.3 722.9 689.5 723.9 690.6C724.9 691.8 726.0 694.5 726.0 696.1C726.0 697.7 725.2 699.4 723.9 700.2C722.6 701.0 719.3 701.3 718.4 700.8C717.5 700.3 717.8 698.2 718.4 697.4C719.0 696.6 721.7 697.5 721.9 696.1C722.1 694.7 719.5 690.1 719.8 689.2Z" fill="#663399" stroke="#663399" stroke-width="1.6" stroke-linejoin="round"/>
<path d="M669.0 676.0C669.5 674.7 673.0 674.3 674.0 675.0C675.0 675.7 675.5 678.7 675.0 680.0C674.5 681.3 672.0 683.7 671.0 683.0C670.0 682.3 668.5 677.3 669.0 676.0Z" fill="#4f007d"/>
<path d="M660.0 694.0C661.0 693.0 663.8 692.3 664.0 693.0C664.2 693.7 662.0 697.0 661.0 698.0C660.0 699.0 658.2 699.7 658.0 699.0C657.8 698.3 659.0 695.0 660.0 694.0Z" fill="#4f007d"/>
<path d="M929.0 707.0C927.0 706.5 928.2 705.5 929.0 704.0C929.8 702.5 932.0 699.5 934.0 698.0C936.0 696.5 939.8 693.5 941.0 695.0C942.2 696.5 943.0 705.0 941.0 707.0C939.0 709.0 931.0 707.5 929.0 707.0Z" fill="#c8e6ff"/>
<path d="M932.0 707.0C931.0 706.0 933.5 702.5 935.0 701.0C936.5 699.5 940.0 697.0 941.0 698.0C942.0 699.0 942.5 705.5 941.0 707.0C939.5 708.5 933.0 708.0 932.0 707.0Z" fill="#3399ff"/>
<path d="M155.0 576.5C155.8 576.0 159.8 576.8 162.0 578.0C164.2 579.2 167.7 582.7 168.0 584.0C168.3 585.3 165.8 586.5 164.0 586.0C162.2 585.5 158.5 582.6 157.0 581.0C155.5 579.4 154.2 577.0 155.0 576.5Z" fill="#c8e6ff"/>
<path d="M157.0 578.5C157.5 578.2 160.2 579.2 161.0 580.0C161.8 580.8 162.5 582.8 162.0 583.0C161.5 583.2 158.8 582.2 158.0 581.5C157.2 580.8 156.5 578.8 157.0 578.5Z" fill="#3399ff"/>
<path d="M154.0 547.0C154.5 545.8 157.2 547.2 158.0 549.0C158.8 550.8 159.5 556.8 159.0 558.0C158.5 559.2 155.8 557.8 155.0 556.0C154.2 554.2 153.5 548.2 154.0 547.0Z" fill="#c8e6ff"/>
</g>
<!-- 30_water.svg -->
<path d="M180.0 463.5 L192.5 461.0 L207.5 458.5 L215.0 453.5 L222.5 454.8 L230.0 449.8 L237.5 444.8 L250.0 441.0 L260.0 439.8 L272.5 442.2 L282.5 448.5 L290.0 453.5 L292.5 463.5 L287.5 471.0 L282.5 478.5 L277.5 484.8 L267.5 484.8 L255.0 486.0 L247.5 489.8 L242.5 494.8 L243.8 502.2 L248.8 507.2 L240.0 507.2 L235.0 502.2 L227.5 501.0 L225.0 506.0 L232.5 512.2 L236.2 521.0 L237.5 531.0 L237.5 542.2 L243.8 546.0 L248.8 553.5 L257.5 556.0 L262.5 559.8 L260.0 566.0 L256.2 573.5 L253.8 583.5 L256.2 593.5 L257.5 606.0 L255.0 616.0 L250.0 628.5 L252.5 636.0 L260.0 641.0 L266.2 648.5 L265.0 656.0 L270.0 663.5 L267.5 673.5 L265.0 692.0 L263.0 707.0 L187.0 707.0 L184.0 700.0 L177.0 692.5 L168.0 690.0 L160.0 687.0 L158.8 673.5 L161.2 656.0 L165.0 643.5 L172.5 636.0 L177.5 626.0 L182.5 616.0 L192.5 611.0 L202.5 613.5 L196.2 606.0 L188.8 601.0 L182.5 591.0 L177.5 576.0 L172.5 561.0 L168.8 546.0 L165.0 533.5 L163.8 523.5 L166.2 511.0 L162.5 501.0 L158.8 491.0 L161.2 483.5 L170.0 478.5 L175.0 468.5Z" fill="#a6d2e1"/>
<path d="M667.7 496.4 L670.6 488.6 L676.5 480.8 L684.3 473.0 L694.0 469.0 L703.8 468.0 L713.6 467.0 L717.5 468.0 L733.0 466.0 L741.0 465.0 L748.8 466.0 L754.6 464.0 L760.5 461.2 L766.3 458.3 L771.2 461.2 L770.2 465.0 L764.4 469.0 L758.5 472.0 L748.8 474.0 L741.0 472.0 L733.0 471.0 L723.4 470.0 L717.5 472.0 L709.7 474.0 L700.0 476.0 L692.0 481.8 L686.2 488.6 L682.3 496.4 L681.4 504.2 L680.4 512.0 L681.4 518.0 L678.4 517.0 L674.5 510.0 L668.7 504.2Z" fill="#a6d2e1"/>
<path d="M812.2 460.3 L817.0 459.3 L823.0 464.2 L826.9 472.0 L829.8 477.9 L825.0 475.9 L817.0 473.0 L813.2 468.0Z" fill="#a6d2e1"/>
<path d="M389.5 491L400 490 401 493 394 497 391 501 388 504 386 512 383 522 381 530 377.5 530.5 379 518 382 508 385 500Z" fill="#a6d2e1"/>
<path d="M416 478L420 474 428 472 432 475 438 480 438.5 487 432 489 426 486 420 488 417 484ZM406 486L412 487 413 493 408 497 406 497Z" fill="#a6d2e1"/>
<path d="M408 491L418 490 428 491 427 495 420 496 410 495Z" fill="#8ec4ea"/>
<path d="M835 398L841 399.5 848.5 400.5 843 402.5 838 403.5Z" fill="#1b3f63"/>
<path d="M717.5 469L705.8 469 696 472 686.25 479.8 679.4 490.5 677.5 500.3 678.4 511M813.2 459.7L820 466 825.9 474 829.8 479.8" fill="none" stroke="#244a68" stroke-width="2"/>
<!-- 40_grid.svg -->
<path d="M214.4 180L59.6 707M292.5 180L174.3 707M368.4 180L285.6 707M442.7 180L394.7 707M516.2 180L502.5 707M589.4 180L610.0 707M663.0 180L718.0 707M737.6 180L827.4 707M813.9 180L939.3 707M150.0 187.7C152.5 188.6 160.0 191.1 165.0 192.8C170.0 194.5 175.0 196.1 180.0 197.7C185.0 199.3 190.0 200.9 195.0 202.4C200.0 203.9 205.0 205.4 210.0 206.8C215.0 208.3 220.0 209.7 225.0 211.1C230.0 212.5 235.0 213.8 240.0 215.1C245.0 216.5 250.0 217.7 255.0 219.0C260.0 220.2 265.0 221.4 270.0 222.6C275.0 223.8 280.0 224.9 285.0 226.0C290.0 227.2 295.0 228.2 300.0 229.3C305.0 230.3 310.0 231.3 315.0 232.3C320.0 233.3 325.0 234.2 330.0 235.1C335.0 236.0 340.0 236.9 345.0 237.8C350.0 238.6 355.0 239.4 360.0 240.2C365.0 241.0 370.0 241.7 375.0 242.5C380.0 243.2 385.0 243.9 390.0 244.5C395.0 245.2 400.0 245.8 405.0 246.4C410.0 247.0 415.0 247.5 420.0 248.0C425.0 248.6 430.0 249.1 435.0 249.5C440.0 250.0 445.0 250.4 450.0 250.8C455.0 251.2 460.0 251.6 465.0 251.9C470.0 252.2 475.0 252.5 480.0 252.8C485.0 253.1 490.0 253.3 495.0 253.5C500.0 253.7 505.0 253.9 510.0 254.1C515.0 254.2 520.0 254.3 525.0 254.4C530.0 254.5 535.0 254.6 540.0 254.6C545.0 254.6 550.0 254.6 555.0 254.6C560.0 254.5 565.0 254.5 570.0 254.4C575.0 254.2 580.0 254.1 585.0 254.0C590.0 253.8 595.0 253.6 600.0 253.4C605.0 253.1 610.0 252.9 615.0 252.6C620.0 252.3 625.0 252.0 630.0 251.6C635.0 251.3 640.0 250.9 645.0 250.5C650.0 250.1 655.0 249.6 660.0 249.1C665.0 248.7 670.0 248.1 675.0 247.6C680.0 247.1 685.0 246.5 690.0 245.9C695.0 245.3 700.0 244.6 705.0 244.0C710.0 243.3 715.0 242.6 720.0 241.9C725.0 241.1 730.0 240.4 735.0 239.6C740.0 238.8 745.0 237.9 750.0 237.1C755.0 236.2 760.0 235.3 765.0 234.4C770.0 233.5 775.0 232.5 780.0 231.5C785.0 230.5 790.0 229.5 795.0 228.4C800.0 227.4 805.0 226.3 810.0 225.1C815.0 224.0 820.0 222.9 825.0 221.7C830.0 220.5 835.0 219.2 840.0 218.0C845.0 216.7 850.0 215.4 855.0 214.1C860.0 212.8 865.0 211.4 870.0 210.0C875.0 208.6 880.0 207.2 885.0 205.7C890.0 204.2 895.0 202.7 900.0 201.2C905.0 199.6 910.0 198.0 915.0 196.4C920.0 194.8 927.5 192.3 930.0 191.5M150.0 329.6C152.5 330.3 160.0 332.6 165.0 334.1C170.0 335.6 175.0 337.1 180.0 338.5C185.0 339.9 190.0 341.3 195.0 342.7C200.0 344.0 205.0 345.3 210.0 346.6C215.0 347.9 220.0 349.2 225.0 350.4C230.0 351.7 235.0 352.9 240.0 354.0C245.0 355.2 250.0 356.4 255.0 357.5C260.0 358.6 265.0 359.7 270.0 360.7C275.0 361.8 280.0 362.8 285.0 363.8C290.0 364.8 295.0 365.7 300.0 366.7C305.0 367.6 310.0 368.5 315.0 369.4C320.0 370.3 325.0 371.1 330.0 371.9C335.0 372.7 340.0 373.5 345.0 374.3C350.0 375.0 355.0 375.8 360.0 376.5C365.0 377.2 370.0 377.8 375.0 378.5C380.0 379.1 385.0 379.7 390.0 380.3C395.0 380.9 400.0 381.5 405.0 382.0C410.0 382.5 415.0 383.0 420.0 383.5C425.0 384.0 430.0 384.4 435.0 384.8C440.0 385.2 445.0 385.6 450.0 386.0C455.0 386.3 460.0 386.7 465.0 387.0C470.0 387.3 475.0 387.5 480.0 387.8C485.0 388.0 490.0 388.3 495.0 388.4C500.0 388.6 505.0 388.8 510.0 388.9C515.0 389.1 520.0 389.2 525.0 389.2C530.0 389.3 535.0 389.4 540.0 389.4C545.0 389.4 550.0 389.4 555.0 389.4C560.0 389.3 565.0 389.3 570.0 389.2C575.0 389.1 580.0 389.0 585.0 388.8C590.0 388.7 595.0 388.5 600.0 388.3C605.0 388.1 610.0 387.9 615.0 387.6C620.0 387.3 625.0 387.0 630.0 386.7C635.0 386.4 640.0 386.1 645.0 385.7C650.0 385.3 655.0 384.9 660.0 384.5C665.0 384.1 670.0 383.6 675.0 383.1C680.0 382.6 685.0 382.1 690.0 381.6C695.0 381.0 700.0 380.5 705.0 379.9C710.0 379.3 715.0 378.6 720.0 378.0C725.0 377.3 730.0 376.6 735.0 375.9C740.0 375.2 745.0 374.4 750.0 373.7C755.0 372.9 760.0 372.1 765.0 371.3C770.0 370.4 775.0 369.6 780.0 368.7C785.0 367.8 790.0 366.9 795.0 365.9C800.0 365.0 805.0 364.0 810.0 363.0C815.0 362.0 820.0 360.9 825.0 359.9C830.0 358.8 835.0 357.7 840.0 356.6C845.0 355.4 850.0 354.3 855.0 353.1C860.0 351.9 865.0 350.7 870.0 349.4C875.0 348.2 880.0 346.9 885.0 345.6C890.0 344.3 895.0 342.9 900.0 341.6C905.0 340.2 910.0 338.8 915.0 337.3C920.0 335.9 927.5 333.7 930.0 332.9M150.0 470.1C152.5 470.8 160.0 472.8 165.0 474.2C170.0 475.5 175.0 476.8 180.0 478.1C185.0 479.4 190.0 480.6 195.0 481.9C200.0 483.1 205.0 484.3 210.0 485.5C215.0 486.6 220.0 487.8 225.0 488.9C230.0 490.0 235.0 491.1 240.0 492.2C245.0 493.2 250.0 494.2 255.0 495.3C260.0 496.3 265.0 497.2 270.0 498.2C275.0 499.1 280.0 500.1 285.0 501.0C290.0 501.9 295.0 502.7 300.0 503.6C305.0 504.4 310.0 505.2 315.0 506.0C320.0 506.8 325.0 507.6 330.0 508.3C335.0 509.1 340.0 509.8 345.0 510.5C350.0 511.2 355.0 511.8 360.0 512.5C365.0 513.1 370.0 513.7 375.0 514.3C380.0 514.9 385.0 515.4 390.0 516.0C395.0 516.5 400.0 517.0 405.0 517.5C410.0 518.0 415.0 518.4 420.0 518.8C425.0 519.3 430.0 519.7 435.0 520.0C440.0 520.4 445.0 520.8 450.0 521.1C455.0 521.4 460.0 521.7 465.0 522.0C470.0 522.3 475.0 522.5 480.0 522.7C485.0 523.0 490.0 523.2 495.0 523.3C500.0 523.5 505.0 523.7 510.0 523.8C515.0 523.9 520.0 524.0 525.0 524.1C530.0 524.1 535.0 524.2 540.0 524.2C545.0 524.2 550.0 524.2 555.0 524.2C560.0 524.1 565.0 524.1 570.0 524.0C575.0 523.9 580.0 523.8 585.0 523.7C590.0 523.5 595.0 523.4 600.0 523.2C605.0 523.0 610.0 522.8 615.0 522.6C620.0 522.3 625.0 522.1 630.0 521.8C635.0 521.5 640.0 521.2 645.0 520.8C650.0 520.5 655.0 520.1 660.0 519.7C665.0 519.4 670.0 518.9 675.0 518.5C680.0 518.1 685.0 517.6 690.0 517.1C695.0 516.6 700.0 516.1 705.0 515.5C710.0 515.0 715.0 514.4 720.0 513.8C725.0 513.2 730.0 512.6 735.0 512.0C740.0 511.3 745.0 510.6 750.0 509.9C755.0 509.2 760.0 508.5 765.0 507.7C770.0 507.0 775.0 506.2 780.0 505.4C785.0 504.6 790.0 503.8 795.0 502.9C800.0 502.0 805.0 501.2 810.0 500.2C815.0 499.3 820.0 498.4 825.0 497.4C830.0 496.5 835.0 495.5 840.0 494.4C845.0 493.4 850.0 492.4 855.0 491.3C860.0 490.2 865.0 489.1 870.0 488.0C875.0 486.9 880.0 485.7 885.0 484.5C890.0 483.3 895.0 482.1 900.0 480.9C905.0 479.6 910.0 478.4 915.0 477.1C920.0 475.8 927.5 473.8 930.0 473.1M150.0 610.3C152.5 610.9 160.0 612.8 165.0 614.0C170.0 615.2 175.0 616.4 180.0 617.6C185.0 618.8 190.0 619.9 195.0 621.0C200.0 622.1 205.0 623.2 210.0 624.3C215.0 625.4 220.0 626.4 225.0 627.4C230.0 628.4 235.0 629.4 240.0 630.4C245.0 631.4 250.0 632.3 255.0 633.2C260.0 634.2 265.0 635.0 270.0 635.9C275.0 636.8 280.0 637.6 285.0 638.5C290.0 639.3 295.0 640.1 300.0 640.8C305.0 641.6 310.0 642.4 315.0 643.1C320.0 643.8 325.0 644.5 330.0 645.2C335.0 645.9 340.0 646.5 345.0 647.1C350.0 647.8 355.0 648.4 360.0 649.0C365.0 649.5 370.0 650.1 375.0 650.6C380.0 651.2 385.0 651.7 390.0 652.2C395.0 652.6 400.0 653.1 405.0 653.5C410.0 654.0 415.0 654.4 420.0 654.8C425.0 655.2 430.0 655.6 435.0 655.9C440.0 656.2 445.0 656.6 450.0 656.9C455.0 657.2 460.0 657.4 465.0 657.7C470.0 657.9 475.0 658.2 480.0 658.4C485.0 658.6 490.0 658.7 495.0 658.9C500.0 659.1 505.0 659.2 510.0 659.3C515.0 659.4 520.0 659.5 525.0 659.6C530.0 659.6 535.0 659.7 540.0 659.7C545.0 659.7 550.0 659.7 555.0 659.7C560.0 659.6 565.0 659.6 570.0 659.5C575.0 659.4 580.0 659.3 585.0 659.2C590.0 659.1 595.0 658.9 600.0 658.8C605.0 658.6 610.0 658.4 615.0 658.2C620.0 658.0 625.0 657.7 630.0 657.5C635.0 657.2 640.0 656.9 645.0 656.6C650.0 656.3 655.0 656.0 660.0 655.6C665.0 655.3 670.0 654.9 675.0 654.5C680.0 654.1 685.0 653.6 690.0 653.2C695.0 652.7 700.0 652.3 705.0 651.8C710.0 651.3 715.0 650.7 720.0 650.2C725.0 649.7 730.0 649.1 735.0 648.5C740.0 647.9 745.0 647.3 750.0 646.6C755.0 646.0 760.0 645.3 765.0 644.6C770.0 644.0 775.0 643.2 780.0 642.5C785.0 641.8 790.0 641.0 795.0 640.2C800.0 639.4 805.0 638.6 810.0 637.8C815.0 637.0 820.0 636.1 825.0 635.2C830.0 634.3 835.0 633.4 840.0 632.5C845.0 631.6 850.0 630.6 855.0 629.6C860.0 628.6 865.0 627.6 870.0 626.6C875.0 625.6 880.0 624.5 885.0 623.4C890.0 622.4 895.0 621.3 900.0 620.1C905.0 619.0 910.0 617.8 915.0 616.7C920.0 615.5 927.5 613.6 930.0 613.0M150.0 750.8C152.5 751.3 160.0 753.1 165.0 754.2C170.0 755.3 175.0 756.4 180.0 757.5C185.0 758.5 190.0 759.6 195.0 760.6C200.0 761.6 205.0 762.6 210.0 763.6C215.0 764.6 220.0 765.6 225.0 766.5C230.0 767.4 235.0 768.3 240.0 769.2C245.0 770.1 250.0 771.0 255.0 771.8C260.0 772.7 265.0 773.5 270.0 774.3C275.0 775.1 280.0 775.9 285.0 776.6C290.0 777.4 295.0 778.1 300.0 778.8C305.0 779.5 310.0 780.2 315.0 780.9C320.0 781.6 325.0 782.2 330.0 782.8C335.0 783.5 340.0 784.1 345.0 784.6C350.0 785.2 355.0 785.8 360.0 786.3C365.0 786.8 370.0 787.4 375.0 787.8C380.0 788.3 385.0 788.8 390.0 789.3C395.0 789.7 400.0 790.1 405.0 790.5C410.0 790.9 415.0 791.3 420.0 791.7C425.0 792.0 430.0 792.4 435.0 792.7C440.0 793.0 445.0 793.3 450.0 793.6C455.0 793.9 460.0 794.1 465.0 794.3C470.0 794.6 475.0 794.8 480.0 795.0C485.0 795.2 490.0 795.3 495.0 795.5C500.0 795.6 505.0 795.7 510.0 795.8C515.0 795.9 520.0 796.0 525.0 796.1C530.0 796.1 535.0 796.2 540.0 796.2C545.0 796.2 550.0 796.2 555.0 796.2C560.0 796.1 565.0 796.1 570.0 796.0C575.0 796.0 580.0 795.9 585.0 795.8C590.0 795.6 595.0 795.5 600.0 795.3C605.0 795.2 610.0 795.0 615.0 794.8C620.0 794.6 625.0 794.4 630.0 794.2C635.0 793.9 640.0 793.6 645.0 793.4C650.0 793.1 655.0 792.8 660.0 792.4C665.0 792.1 670.0 791.8 675.0 791.4C680.0 791.0 685.0 790.6 690.0 790.2C695.0 789.8 700.0 789.4 705.0 788.9C710.0 788.4 715.0 788.0 720.0 787.4C725.0 786.9 730.0 786.4 735.0 785.9C740.0 785.3 745.0 784.8 750.0 784.2C755.0 783.6 760.0 783.0 765.0 782.3C770.0 781.7 775.0 781.0 780.0 780.4C785.0 779.7 790.0 779.0 795.0 778.3C800.0 777.5 805.0 776.8 810.0 776.0C815.0 775.3 820.0 774.5 825.0 773.7C830.0 772.8 835.0 772.0 840.0 771.2C845.0 770.3 850.0 769.4 855.0 768.5C860.0 767.6 865.0 766.7 870.0 765.7C875.0 764.8 880.0 763.8 885.0 762.8C890.0 761.8 895.0 760.8 900.0 759.8C905.0 758.8 910.0 757.7 915.0 756.6C920.0 755.5 927.5 753.8 930.0 753.3" fill="none" stroke="#8c8c8c" stroke-opacity="0.22" stroke-width="0.7"/>
<!-- 50_thin.svg -->
<path d="M252.5 585.0 L258.4 586.4 L261.3 598.0 L259.9 609.8 L267.2 615.7 L278.9 618.6 L287.7 614.2 L295.0 608.3 L290.6 598.0 L283.3 589.3 L278.9 583.4M322.9 608.3 L343.4 611.3 L344.8 601.0 L355.1 590.8 L366.8 584.9 L374.1 587.8 L381.5 577.6 L393.2 587.8 L402.0 592.2 L406.4 604.0 L404.9 612.7 L413.7 618.6 L431.3 623.0 L443.5 633.5 L451.0 656.0 L466.0 671.0 L481.0 683.5 L491.0 692.0 L500.0 706.0M281.0 704.0 L289.8 697.1 L299.5 693.7 L309.3 696.1 L319.0 692.2 L326.9 692.2 L335.7 693.7 L338.6 699.0 L338.6 703.0M154.4 574.6 L167.6 571.7 L177.8 565.9M153.0 627.0 L158.0 632.0 L156.0 640.0M613.4 616.9 L621.2 621.6 L627.5 618.4 L635.3 624.7 L640.0 616.1 L644.7 621.6 L649.4 627.8 L658.8 630.9 L671.2 632.5 L665.0 638.8 L657.2 643.4 L649.4 646.6 L640.0 649.7 L629.0 651.2 L621.2 648.1 L615.0 646.6 L621.2 638.8 L615.0 632.5 L610.3 624.7 L613.4 616.9M593.0 638.8 L599.4 637.2 L605.6 643.4 L604.0 651.2 L593.0 652.8 L590.0 660.0 L580.0 662.0 L575.0 670.0 L566.0 672.0 L560.0 680.0 L548.0 684.0 L540.0 692.0M691.6 652.8 L688.4 657.5 L690.0 663.8 L687.7 670.0 L690.0 679.4 L691.6 690.0 L696.0 700.0M727.5 638.8 L736.9 635.6 L743.1 629.4 L746.2 621.6 L750.0 616.9 L757.0 608.0 L768.0 600.0 L778.0 592.0 L790.0 586.0 L800.0 582.0 L810.8 578.5M936.5 331.5 L932.8 333.7 L933.5 338.0 L927.7 344.0 L921.8 348.3 L916.0 350.5 L911.6 356.4 L909.4 363.0 L901.3 365.2M909.4 363.0 L911.6 368.8 L914.5 371.8 L917.4 377.6 L924.8 380.6 L930.6 383.5 L936.5 385.0 L940.0 386.0M671.2 632.5 L680.0 636.0 L688.0 640.0 L691.6 652.8M406.0 600.0 L412.0 606.0 L410.0 612.0 L406.0 616.0" fill="none" stroke="#8a8a8a" stroke-opacity="0.75" stroke-width="0.7" stroke-linejoin="round"/>
<!-- 60_contours.svg -->
<path d="M153.0 180.0C153.3 180.4 153.0 179.6 155.0 182.5C157.0 185.4 161.7 192.1 165.0 197.5C168.3 202.9 171.7 209.8 175.0 215.0C178.3 220.2 180.8 223.8 185.0 228.8C189.2 233.8 194.2 239.0 200.0 245.0C205.8 251.0 213.8 259.0 220.0 265.0C226.2 271.0 233.3 277.7 237.5 281.0C241.7 284.3 240.4 283.1 245.0 285.0C249.6 286.9 258.3 290.4 265.0 292.5C271.7 294.6 277.5 295.6 285.0 297.5C292.5 299.4 300.0 301.8 310.0 303.8C320.0 305.8 336.2 308.5 345.0 309.5C353.8 310.5 357.3 308.8 362.5 309.5C367.7 310.2 372.2 311.6 376.0 313.8C379.8 315.9 382.0 320.1 385.0 322.5C388.0 324.9 390.2 327.2 393.8 328.0C397.2 328.8 402.3 327.4 406.0 327.5C409.7 327.6 411.8 327.5 416.0 328.8C420.2 330.0 425.2 332.7 431.0 335.0C436.8 337.3 444.3 340.0 451.0 342.5C457.7 345.0 463.5 347.9 471.0 350.0C478.5 352.1 487.7 353.7 496.0 355.0C504.3 356.3 512.7 357.0 521.0 358.0C529.3 359.0 538.1 359.8 546.0 361.0C553.9 362.2 561.0 363.8 568.5 365.5C576.0 367.2 583.9 369.0 591.0 371.0C598.1 373.0 605.2 375.2 611.0 377.5C616.8 379.8 621.0 381.9 626.0 385.0C631.0 388.1 636.8 392.2 641.0 396.0C645.2 399.8 648.5 403.5 651.0 407.5C653.5 411.5 654.2 416.5 656.0 420.0C657.8 423.5 660.7 425.9 662.0 428.8C663.3 431.6 664.0 433.9 664.0 437.0C664.0 440.1 663.3 444.7 662.0 447.2C660.7 449.8 658.0 450.6 656.0 452.2C654.0 453.9 651.8 455.4 649.8 457.2C647.7 459.1 645.4 461.2 643.5 463.5C641.6 465.8 641.0 468.3 638.5 471.0C636.0 473.7 632.2 477.0 628.5 479.8C624.8 482.5 620.6 485.4 616.0 487.2C611.4 489.1 606.8 490.0 601.0 491.0C595.2 492.0 587.7 492.9 581.0 493.5C574.3 494.1 567.7 494.5 561.0 494.8C554.3 495.0 546.8 494.5 541.0 494.8C535.2 495.0 531.0 495.0 526.0 496.0C521.0 497.0 516.0 498.6 511.0 500.5C506.0 502.4 501.0 504.6 496.0 507.2C491.0 509.9 486.8 514.0 481.0 516.5C475.2 519.0 467.2 520.4 461.0 522.0C454.8 523.6 448.5 524.1 443.5 526.0C438.5 527.9 435.2 530.8 431.0 533.5C426.8 536.2 422.7 539.2 418.5 542.2C414.3 545.2 409.1 549.0 406.0 551.5C402.9 554.0 402.7 554.8 400.0 557.2C397.3 559.7 393.8 562.7 390.0 566.0C386.2 569.3 381.7 573.7 377.5 577.2C373.3 580.8 369.2 584.1 365.0 587.2C360.8 590.4 356.2 594.0 352.5 596.0C348.8 598.0 345.8 598.8 342.5 599.0C339.2 599.2 335.6 598.4 332.5 597.2C329.4 596.1 326.2 593.5 323.8 592.2C321.2 591.0 319.4 589.5 317.5 589.8C315.6 590.0 314.2 591.2 312.5 593.5C310.8 595.8 309.4 600.6 307.5 603.5C305.6 606.4 302.5 608.5 301.2 611.0C300.0 613.5 300.8 616.2 300.0 618.5C299.2 620.8 298.8 622.7 296.2 624.8C293.8 626.8 289.4 629.3 285.0 631.0C280.6 632.7 274.2 633.1 270.0 634.8C265.8 636.4 262.6 638.3 260.0 641.0C257.4 643.7 255.3 647.9 254.5 651.0C253.7 654.1 253.7 656.8 255.0 659.8C256.3 662.7 259.2 666.0 262.5 668.5C265.8 671.0 270.4 672.8 275.0 674.8C279.6 676.8 286.7 679.3 290.0 680.5C293.3 681.7 291.2 680.8 294.6 682.0C298.0 683.2 306.7 685.8 310.3 687.8C313.9 689.8 314.4 692.3 316.1 693.7C317.8 695.1 318.9 696.7 320.5 696.1C322.1 695.5 323.7 690.8 325.4 690.3C327.1 689.8 329.4 692.1 330.8 693.2C332.2 694.3 333.1 695.8 333.7 697.1C334.3 698.4 333.6 699.9 334.7 701.0C335.8 702.1 339.1 703.1 340.5 703.9C341.9 704.7 342.6 705.6 343.0 706.0M265.5 180.0C265.8 180.4 265.1 180.0 267.5 182.5C269.9 185.0 275.4 190.2 280.0 195.0C284.6 199.8 290.0 206.2 295.0 211.0C300.0 215.8 306.2 220.2 310.0 223.8C313.8 227.3 316.7 229.4 318.0 232.5C319.3 235.6 316.8 239.8 318.0 242.5C319.2 245.2 320.5 246.7 325.0 248.8C329.5 250.8 337.9 253.1 345.0 255.0C352.1 256.9 360.0 258.2 367.5 260.0C375.0 261.8 384.6 263.9 390.0 266.0C395.4 268.1 397.3 270.9 400.0 272.5C402.7 274.1 402.5 274.2 406.0 275.5C409.5 276.8 415.6 278.8 421.0 280.0C426.4 281.2 431.8 282.2 438.5 283.0C445.2 283.8 453.9 284.0 461.0 285.0C468.1 286.0 473.5 287.6 481.0 288.8C488.5 289.9 497.7 291.0 506.0 292.0C514.3 293.0 522.7 294.3 531.0 295.0C539.3 295.7 549.3 295.2 556.0 296.0C562.7 296.8 565.2 298.4 571.0 299.5C576.8 300.6 585.2 301.6 591.0 302.5C596.8 303.4 600.2 304.6 606.0 305.0C611.8 305.4 620.2 304.4 626.0 305.0C631.8 305.6 636.0 307.1 641.0 308.8C646.0 310.4 652.5 313.5 656.0 315.0C659.5 316.5 658.9 315.6 662.0 317.5C665.1 319.4 669.5 323.8 674.5 326.2C679.5 328.8 685.8 330.0 692.0 332.5C698.2 335.0 705.8 338.3 712.0 341.2C718.2 344.2 723.7 346.9 729.5 350.0C735.3 353.1 741.6 356.2 747.0 360.0C752.4 363.8 757.8 368.3 762.0 372.5C766.2 376.7 769.5 380.4 772.0 385.0C774.5 389.6 776.0 395.4 777.0 400.0C778.0 404.6 778.8 408.8 778.0 412.5C777.2 416.2 773.4 418.6 772.0 422.5C770.6 426.4 769.8 432.1 769.5 436.0C769.2 439.9 770.6 442.2 770.0 446.0C769.4 449.8 766.7 454.3 765.8 458.5C764.8 462.7 764.1 466.8 764.5 471.0C764.9 475.2 766.2 479.8 768.2 483.5C770.3 487.2 773.9 491.0 777.0 493.5C780.1 496.0 785.3 496.8 787.0 498.5C788.7 500.2 787.8 501.8 787.0 503.5C786.2 505.2 784.1 506.4 782.0 508.5C779.9 510.6 777.4 513.5 774.5 516.0C771.6 518.5 769.1 521.6 764.5 523.5C759.9 525.4 752.0 526.4 747.0 527.2C742.0 528.1 738.0 527.5 734.5 528.5C731.0 529.5 727.8 531.4 725.8 533.5C723.7 535.6 722.3 538.3 722.0 541.0C721.7 543.7 722.3 547.7 724.0 549.8C725.7 551.8 728.5 552.7 732.0 553.5C735.5 554.3 740.3 554.3 745.0 554.5C749.7 554.7 755.0 554.2 760.0 554.5C765.0 554.8 770.7 554.9 775.0 556.0C779.3 557.1 783.0 559.3 786.0 561.0C789.0 562.7 790.7 565.1 793.0 566.0C795.3 566.9 796.9 566.4 800.0 566.3C803.1 566.2 807.4 566.2 811.5 565.5C815.6 564.8 820.6 563.5 824.8 562.2C828.9 561.0 832.2 559.8 836.4 558.0C840.5 556.2 845.9 553.8 849.7 551.4C853.6 549.0 856.9 545.6 859.5 543.9C862.1 542.2 863.6 541.7 865.4 541.0C867.2 540.3 869.0 539.6 870.3 539.6C871.6 539.6 873.0 540.3 873.2 541.0C873.4 541.7 872.1 542.8 871.7 543.9C871.3 545.0 870.5 546.3 870.8 547.4C871.0 548.5 871.8 549.6 873.2 550.3C874.6 551.0 876.9 551.6 879.0 551.8C881.1 552.0 883.8 551.6 885.9 551.3C888.0 551.0 890.6 550.5 891.8 549.8C893.0 549.1 893.4 547.9 893.2 546.9C893.0 545.9 891.5 545.0 890.8 543.9C890.1 542.8 888.6 541.4 888.8 540.5C889.0 539.6 890.2 539.1 891.8 538.6C893.4 538.1 896.2 537.7 898.6 537.6C901.0 537.5 904.9 538.4 906.4 538.1C907.9 537.9 907.6 536.8 907.4 536.1C907.2 535.5 906.9 534.7 905.4 534.2C903.9 533.7 901.0 533.5 898.6 533.2C896.2 533.0 893.1 533.4 890.8 532.7C888.5 532.1 886.9 530.3 884.9 529.3C882.9 528.3 880.4 527.9 879.0 526.9C877.6 525.9 876.6 524.5 876.6 523.4C876.6 522.2 877.3 520.9 879.0 520.0C880.7 519.1 884.1 518.5 886.9 518.1C889.7 517.7 893.1 517.3 895.7 517.4C898.3 517.5 900.5 518.0 902.5 518.6C904.5 519.2 905.9 521.1 907.4 521.0C908.9 520.9 910.0 518.7 911.3 518.1C912.6 517.5 913.6 517.2 915.2 517.6C916.8 518.0 918.9 519.6 921.0 520.5C923.1 521.4 925.2 522.0 927.9 522.9C930.6 523.8 935.2 525.3 937.2 525.9C939.2 526.5 939.5 526.4 940.0 526.5M383.0 180.0C383.5 180.4 383.8 181.0 386.0 182.5C388.2 184.0 392.7 187.0 396.0 188.8C399.3 190.5 402.2 191.0 406.0 193.0C409.8 195.0 414.8 197.8 418.5 201.0C422.2 204.2 425.2 208.9 428.5 212.5C431.8 216.1 435.2 220.5 438.5 222.5C441.8 224.5 444.3 224.8 448.5 224.5C452.7 224.2 458.1 220.9 463.5 221.0C468.9 221.1 474.8 223.3 481.0 225.0C487.2 226.7 495.2 228.5 501.0 231.0C506.8 233.5 511.0 237.7 516.0 240.0C521.0 242.3 526.0 244.1 531.0 245.0C536.0 245.9 540.2 245.7 546.0 245.5C551.8 245.3 559.3 244.3 566.0 243.8C572.7 243.2 579.3 242.8 586.0 242.0C592.7 241.2 599.8 239.5 606.0 238.8C612.2 238.0 617.7 237.3 623.5 237.5C629.3 237.7 636.0 238.6 641.0 240.0C646.0 241.4 650.0 243.9 653.5 246.0C657.0 248.1 658.1 249.5 662.0 252.5C665.9 255.5 671.6 259.4 677.0 263.8C682.4 268.1 688.7 274.2 694.5 278.8C700.3 283.3 706.2 287.3 712.0 291.2C717.8 295.2 723.7 299.4 729.5 302.5C735.3 305.6 740.8 307.9 747.0 310.0C753.2 312.1 760.3 313.7 767.0 315.0C773.7 316.3 780.7 317.4 787.0 318.0C793.3 318.6 800.2 317.9 804.6 318.3C809.0 318.7 811.0 319.3 813.4 320.5C815.8 321.7 817.9 323.5 819.3 325.6C820.6 327.7 820.0 330.9 821.5 333.0C823.0 335.1 826.0 336.2 828.0 338.0C830.0 339.8 832.5 342.0 833.2 344.0C834.0 346.0 833.2 348.0 832.5 349.8C831.8 351.6 829.3 353.4 828.8 355.0C828.3 356.6 828.6 357.9 829.5 359.3C830.4 360.8 832.3 362.4 834.0 363.7C835.7 365.0 838.0 366.0 839.8 367.4C841.6 368.8 843.3 370.3 845.0 371.8C846.7 373.3 849.4 374.9 850.0 376.2C850.6 377.5 849.8 378.6 848.6 379.8C847.4 381.0 844.2 382.1 842.7 383.5C841.2 384.9 840.5 386.2 839.8 387.9C839.1 389.6 838.3 391.3 838.3 393.7C838.3 396.1 839.4 399.6 839.8 402.5C840.2 405.4 840.8 408.6 840.5 411.3C840.2 414.0 838.7 416.4 838.3 418.6C837.9 420.8 837.6 422.7 838.3 424.5C839.0 426.3 841.1 428.2 842.7 429.6C844.3 431.0 846.7 431.6 847.9 432.6C849.1 433.6 848.6 435.3 850.0 435.5C851.4 435.7 853.8 434.8 856.0 434.0C858.2 433.2 860.5 431.6 863.2 431.0C865.9 430.4 869.3 430.3 872.0 430.4C874.7 430.5 877.6 430.8 879.4 431.8C881.2 432.8 882.6 434.7 883.0 436.2C883.4 437.7 883.4 439.8 882.0 441.0C880.6 442.2 877.0 441.8 874.5 443.5C872.0 445.2 867.8 448.1 867.0 451.0C866.2 453.9 869.9 457.2 869.5 461.0C869.1 464.8 867.4 469.8 864.5 473.5C861.6 477.2 856.2 481.4 852.0 483.5C847.8 485.6 844.1 484.5 839.5 486.0C834.9 487.5 828.2 489.9 824.5 492.2C820.8 494.6 817.8 497.9 817.3 500.0C816.8 502.1 818.9 503.6 821.5 505.0C824.1 506.4 829.1 508.1 833.0 508.2C836.9 508.3 841.4 506.4 844.7 505.7C848.0 505.0 850.2 504.2 852.7 504.1C855.2 504.1 857.4 504.9 859.5 505.4C861.6 505.9 862.1 506.7 865.4 507.3C868.6 507.9 874.1 508.3 879.0 508.8C883.9 509.3 889.8 510.1 894.7 510.3C899.6 510.5 904.5 510.0 908.4 509.8C912.3 509.6 914.9 509.1 918.1 509.3C921.4 509.5 925.1 510.4 927.9 511.2C930.7 512.0 932.7 513.2 934.7 514.2C936.7 515.2 939.1 516.5 940.0 517.0M680.5 180.0C680.8 180.4 681.3 180.0 682.0 182.5C682.7 185.0 683.2 190.4 684.5 195.0C685.8 199.6 687.0 204.6 689.5 210.0C692.0 215.4 695.8 222.1 699.5 227.5C703.2 232.9 707.4 237.5 712.0 242.5C716.6 247.5 721.6 253.1 727.0 257.5C732.4 261.9 738.7 265.8 744.5 268.8C750.3 271.8 756.2 274.7 762.0 275.5C767.8 276.3 773.7 274.7 779.5 273.8C785.3 272.8 791.6 270.8 797.0 270.0C802.4 269.2 806.2 268.4 812.0 268.8C817.8 269.1 825.3 271.0 832.0 272.0C838.7 273.0 846.2 273.9 852.0 275.0C857.8 276.1 862.8 277.1 867.0 278.8C871.2 280.4 874.3 282.3 877.0 285.0C879.7 287.7 882.2 291.7 883.2 295.0C884.3 298.3 884.3 302.0 883.2 305.0C882.2 308.0 879.2 311.2 877.0 313.0C874.8 314.8 872.1 314.8 870.3 316.0C868.5 317.2 867.8 319.3 866.2 320.5C864.7 321.7 862.2 321.9 861.0 323.4C859.8 324.9 859.2 326.9 858.8 329.3C858.4 331.7 859.2 335.6 858.8 338.0C858.4 340.4 857.8 342.4 856.6 344.0C855.4 345.6 853.3 346.9 851.5 347.6C849.7 348.3 846.2 347.8 845.7 348.3C845.2 348.8 846.9 349.5 848.6 350.5C850.3 351.5 854.0 352.8 856.0 354.2C858.0 355.6 858.6 357.1 860.3 358.6C862.0 360.1 863.8 361.7 866.2 363.0C868.7 364.3 872.9 365.6 875.0 366.6C877.1 367.6 878.9 368.2 878.6 368.8C878.4 369.4 875.1 369.6 873.5 370.3C871.9 371.0 869.5 372.2 869.0 373.2C868.5 374.2 869.1 375.6 870.6 376.2C872.1 376.8 875.2 377.0 877.9 376.9C880.6 376.8 884.3 375.3 886.7 375.4C889.1 375.5 891.0 376.6 892.5 377.6C894.0 378.6 894.0 381.1 895.5 381.3C897.0 381.5 899.3 380.1 901.3 379.0C903.2 377.9 905.2 376.3 907.2 374.7C909.2 373.1 911.0 370.8 913.0 369.6C915.0 368.4 916.4 367.5 918.9 367.4C921.4 367.3 924.2 367.9 927.7 368.8C931.2 369.7 938.0 371.9 940.0 372.5M729.0 180.0C729.1 180.4 729.0 180.0 729.5 182.5C730.0 185.0 731.4 190.4 732.0 195.0C732.6 199.6 732.6 205.8 733.2 210.0C733.9 214.2 733.9 217.3 735.8 220.0C737.6 222.7 740.1 225.6 744.5 226.2C748.9 226.9 756.6 224.8 762.0 223.8C767.4 222.7 772.0 220.7 777.0 220.0C782.0 219.3 786.2 218.9 792.0 219.5C797.8 220.1 805.3 222.8 812.0 223.8C818.7 224.7 826.2 224.4 832.0 225.0C837.8 225.6 842.4 226.2 847.0 227.5C851.6 228.8 855.3 230.6 859.5 232.5C863.7 234.4 868.2 236.2 872.0 238.8C875.8 241.2 879.3 245.2 882.0 247.5C884.7 249.8 886.2 248.8 888.0 252.5C889.8 256.2 890.9 265.0 893.0 270.0C895.1 275.0 897.6 279.2 900.5 282.5C903.4 285.8 907.6 288.5 910.5 290.0C913.4 291.5 915.9 291.9 918.0 291.2C920.1 290.6 920.9 287.8 923.0 286.2C925.1 284.7 928.5 282.4 930.5 282.0C932.5 281.6 934.2 282.4 935.0 283.8C935.8 285.1 935.8 287.7 935.0 290.0C934.2 292.3 931.7 295.3 930.5 297.5C929.3 299.7 928.2 301.6 928.0 303.0C927.8 304.4 928.3 304.8 929.2 305.9C930.1 307.0 931.7 308.6 933.5 309.5C935.3 310.4 938.9 311.2 940.0 311.5M817.0 180.0C817.6 180.4 817.4 181.5 820.8 182.5C824.1 183.5 832.2 185.5 837.0 186.2C841.8 187.0 845.3 187.3 849.5 187.0C853.7 186.7 858.6 185.7 862.0 184.5C865.4 183.3 868.7 180.8 870.0 180.0M150.0 475.5C150.7 475.6 151.5 475.1 154.0 476.0C156.5 476.9 161.5 480.2 165.0 481.0C168.5 481.8 171.2 481.4 175.0 481.0C178.8 480.6 185.2 478.1 187.5 478.5C189.8 478.9 189.2 480.6 188.8 483.5C188.3 486.4 186.9 491.4 185.0 496.0C183.1 500.6 179.8 507.2 177.5 511.0C175.2 514.8 173.1 517.7 171.2 518.5C169.4 519.3 167.3 517.9 166.2 516.0C165.2 514.1 166.0 509.8 165.0 507.2C164.0 504.8 161.8 502.5 160.0 501.0C158.2 499.5 155.7 499.0 154.0 498.5C152.3 498.0 150.7 498.1 150.0 498.0M152.0 519.0C152.5 519.3 155.0 520.3 155.0 521.0C155.0 521.7 152.5 522.7 152.0 523.0M152.0 373.0C152.5 373.8 155.0 376.0 155.0 377.5C155.0 379.0 152.5 381.2 152.0 382.0M790.0 569.0C789.5 568.6 788.8 567.6 786.8 566.9C784.8 566.2 781.4 565.1 778.0 564.7C774.6 564.3 770.2 564.3 766.3 564.7C762.4 565.1 757.5 566.0 754.6 566.9C751.7 567.8 751.4 568.5 748.7 569.8C746.0 571.1 741.9 573.4 738.4 574.7C734.9 576.0 730.9 576.2 727.5 577.8C724.1 579.4 721.2 582.0 718.1 584.1C715.0 586.2 711.9 589.3 708.8 590.3C705.6 591.3 703.0 590.5 699.4 590.3C695.8 590.0 690.5 588.7 686.9 588.8C683.2 588.9 680.6 590.1 677.5 591.1C674.4 592.1 672.3 594.1 668.1 595.0C663.9 595.9 657.7 596.2 652.5 596.6C647.3 597.0 642.9 596.8 636.9 597.3C630.9 597.8 620.4 598.9 616.6 599.7C612.8 600.5 614.5 601.0 614.0 602.0C613.5 603.0 613.8 603.7 613.5 606.0C613.2 608.3 612.3 613.3 612.2 616.0C612.2 618.7 613.0 619.9 613.0 622.0C613.0 624.1 613.1 626.1 612.0 628.6C610.9 631.1 607.9 634.7 606.6 637.2C605.4 639.7 604.1 641.1 604.5 643.6C604.9 646.1 607.0 649.7 608.8 652.2C610.6 654.7 613.4 656.9 615.2 658.7C617.0 660.5 619.9 661.4 619.5 663.0C619.1 664.6 615.9 666.5 613.0 668.3C610.1 670.1 605.9 671.9 602.3 673.7C598.7 675.5 595.2 677.3 591.6 679.1C588.0 680.9 584.2 683.1 580.8 684.5C577.4 685.9 573.5 686.5 571.2 687.7C568.9 689.0 567.1 690.4 566.9 692.0C566.7 693.6 567.4 695.7 570.1 697.3C572.8 698.9 579.4 700.5 583.0 701.6C586.6 702.7 589.4 703.1 591.6 703.8C593.8 704.5 595.3 705.6 596.0 706.0M343.5 705.5C344.1 705.0 346.1 702.5 347.4 702.5C348.7 702.5 350.6 705.0 351.3 705.5M184.0 706.0C184.7 705.5 186.7 703.0 188.0 703.0C189.3 703.0 191.3 705.5 192.0 706.0M790.0 569.0C789.5 569.4 788.5 569.9 786.8 571.3C785.0 572.6 781.9 575.1 779.5 577.1C777.1 579.1 774.9 581.0 772.2 583.0C769.5 585.0 766.3 587.3 763.4 588.8C760.5 590.3 758.0 590.9 754.6 591.8C751.2 592.7 746.1 593.4 742.9 594.0C739.7 594.6 737.4 594.3 735.6 595.4C733.8 596.5 731.7 599.4 731.9 600.6C732.1 601.8 735.4 602.1 737.0 602.8C738.6 603.5 740.4 603.7 741.4 605.0C742.4 606.3 742.9 608.6 742.9 610.8C742.9 613.0 742.1 615.9 741.4 618.1C740.7 620.3 739.6 623.8 738.5 624.0C737.4 624.2 736.5 619.9 734.8 619.6C733.1 619.4 730.8 621.3 728.2 622.5C725.6 623.7 721.8 625.4 719.4 626.9C717.0 628.4 715.0 629.8 713.6 631.3C712.2 632.8 711.4 634.0 710.7 635.7C710.0 637.4 709.4 639.2 709.2 641.6C709.0 644.0 709.5 648.6 709.5 650.0M940.0 529.0C939.5 529.0 938.0 529.2 937.2 529.3C936.4 529.4 935.6 529.4 935.2 529.8C934.8 530.2 934.5 531.1 934.7 531.7C934.9 532.4 935.3 533.3 936.2 533.7C937.1 534.1 939.4 534.0 940.0 534.0M940.0 535.5C939.5 535.5 938.2 535.4 937.2 535.2C936.2 535.0 934.9 534.9 933.8 534.2C932.7 533.6 931.9 532.2 930.8 531.3C929.6 530.4 928.4 529.1 926.9 528.8C925.4 528.5 923.6 528.7 922.0 529.3C920.4 529.9 918.2 531.1 917.1 532.2C916.0 533.3 915.6 534.8 915.2 536.1C914.8 537.4 915.5 538.5 914.7 540.0C913.9 541.5 912.0 543.3 910.3 544.9C908.6 546.5 906.5 548.5 904.5 549.8C902.5 551.1 900.7 551.7 898.6 552.7C896.5 553.7 894.2 554.8 891.8 555.7C889.3 556.6 886.0 557.4 883.9 558.1C881.8 558.8 880.6 559.6 879.0 560.1C877.4 560.6 875.8 561.2 874.2 561.0C872.6 560.8 870.9 559.1 869.3 558.6C867.7 558.1 866.3 557.9 864.4 558.1C862.5 558.4 860.0 559.4 857.6 560.1C855.2 560.8 851.9 561.6 849.8 562.5C847.7 563.4 846.3 564.8 844.9 565.4C843.5 566.0 843.1 565.3 841.4 566.3C839.7 567.3 836.4 569.3 834.7 571.3C833.0 573.2 833.0 576.1 831.4 578.0C829.8 579.9 827.3 581.5 824.8 582.9C822.3 584.3 819.0 585.2 816.5 586.3C814.0 587.4 812.0 589.3 809.8 589.6C807.6 589.9 805.4 588.2 803.2 587.9C801.0 587.6 798.8 587.1 796.6 587.9C794.4 588.7 792.2 590.7 789.9 592.9C787.6 595.1 785.2 598.4 782.8 601.2C780.4 604.0 778.4 606.9 775.5 609.8C772.6 612.6 769.0 615.9 765.7 618.3C762.4 620.7 758.8 622.2 755.9 624.4C753.0 626.6 751.5 629.5 748.6 631.7C745.8 633.9 742.1 636.0 738.8 637.8C735.5 639.6 730.6 641.9 729.0 642.7M940.0 543.0C939.5 543.0 938.7 542.9 937.2 543.0C935.7 543.1 933.0 543.1 930.8 543.5C928.6 543.9 926.1 544.6 924.0 545.4C921.9 546.2 919.6 547.2 918.1 548.3C916.6 549.4 915.4 550.6 915.2 551.8C915.0 552.9 916.6 554.0 917.1 555.2C917.6 556.4 918.8 558.4 918.1 559.1C917.5 559.8 915.6 559.5 913.2 559.6C910.8 559.7 906.6 559.4 903.5 559.6C900.4 559.8 897.5 560.3 894.7 561.0C891.9 561.7 889.2 562.9 886.9 564.0C884.6 565.1 883.0 566.5 881.0 567.4C879.0 568.3 877.2 569.1 875.2 569.3C873.2 569.5 871.3 568.9 869.3 568.8C867.3 568.6 865.5 568.4 863.4 568.4C861.3 568.4 858.9 568.0 856.6 568.8C854.3 569.6 852.3 571.7 849.8 573.2C847.3 574.7 843.6 576.4 841.4 578.0C839.2 579.6 839.2 581.0 836.4 582.9C833.6 584.8 828.7 587.6 824.8 589.6C820.9 591.6 816.8 593.5 813.2 594.6C809.6 595.7 806.0 595.5 803.2 596.2C800.4 596.9 798.8 597.3 796.6 598.7C794.4 600.1 791.6 602.6 789.9 604.5C788.2 606.4 785.3 608.3 786.4 609.8C787.5 611.3 794.4 612.2 796.2 613.4C798.0 614.6 798.8 615.5 797.4 617.1C796.0 618.7 791.4 621.0 787.7 623.2C784.1 625.4 779.6 628.7 775.5 630.5C771.4 632.3 767.3 633.0 763.2 634.2C759.1 635.4 755.1 636.2 751.0 637.8C746.9 639.4 742.5 642.1 738.8 643.9C735.1 645.7 731.9 646.9 729.0 648.8C726.1 650.6 724.1 653.4 721.7 655.0C719.3 656.6 716.0 657.2 714.4 658.6C712.8 660.0 712.0 661.5 712.0 663.5C712.0 665.5 712.0 667.9 714.4 670.8C716.8 673.6 722.5 677.8 726.6 680.6C730.7 683.5 735.3 685.5 738.8 687.9C742.3 690.3 745.8 693.2 747.4 695.2C749.0 697.2 748.8 698.6 748.6 700.1C748.4 701.6 746.8 703.1 746.2 704.3C745.6 705.4 745.2 706.5 745.0 707.0M759.6 707.0C759.6 706.5 759.6 706.1 759.6 704.3C759.6 702.5 760.6 699.1 759.6 696.4C758.6 693.7 757.0 690.9 753.5 687.9C750.0 684.9 742.9 681.0 738.8 678.1C734.7 675.2 730.2 673.6 729.0 670.8C727.8 667.9 729.5 663.6 731.5 661.0C733.5 658.4 737.6 656.4 741.3 655.0C745.0 653.6 748.6 653.0 753.5 652.5C758.4 652.0 766.5 652.1 770.6 651.8C774.7 651.5 776.2 650.3 777.9 650.8C779.6 651.3 780.7 652.9 780.8 655.0C780.9 657.1 778.1 660.9 778.4 663.5C778.7 666.1 780.4 667.9 782.8 670.8C785.1 673.6 788.9 677.4 792.5 680.6C796.1 683.9 800.6 687.4 804.7 690.3C808.8 693.1 812.5 695.9 817.0 697.7C821.5 699.5 826.7 700.4 831.6 701.3C836.5 702.2 842.2 702.5 846.3 703.0C850.4 703.5 853.4 703.8 856.0 704.3C858.6 704.8 861.0 705.7 862.0 706.0M911.0 706.0C911.0 705.7 909.2 706.1 911.0 704.3C912.8 702.5 918.8 697.9 922.0 695.2C925.2 692.5 928.0 689.5 930.5 687.9C933.0 686.3 935.5 685.9 937.1 685.4C938.7 684.9 939.5 685.1 940.0 685.0M918.3 706.0C918.3 705.7 916.9 705.7 918.3 704.3C919.7 702.9 923.7 699.7 926.8 697.7C929.9 695.7 934.9 693.3 937.1 692.3C939.3 691.3 939.5 691.6 940.0 691.5M924.4 706.0C924.4 705.7 922.3 706.1 924.4 704.3C926.5 702.5 934.5 696.9 937.1 695.2C939.7 693.5 939.5 694.2 940.0 694.0M647.3 706.0C647.3 705.7 646.6 705.2 647.3 704.0C648.0 702.8 651.2 700.6 651.4 698.8C651.6 697.0 649.4 695.1 648.7 693.3C648.0 691.5 647.1 689.5 647.3 687.9C647.5 686.3 648.7 684.7 650.1 683.8C651.5 682.9 653.7 682.6 655.5 682.4C657.3 682.2 659.6 683.3 661.0 682.4C662.4 681.5 662.6 678.3 663.8 676.9C664.9 675.5 666.1 674.9 667.9 674.2C669.7 673.5 672.7 673.1 674.7 672.8C676.8 672.4 678.6 672.4 680.2 672.1C681.8 671.8 682.9 670.7 684.3 670.8C685.7 670.9 686.8 672.2 688.4 672.8C690.0 673.4 692.0 674.3 693.8 674.2C695.6 674.1 697.5 672.3 699.3 672.1C701.1 671.9 703.0 672.3 704.8 672.8C706.6 673.3 708.4 673.8 710.2 674.9C712.0 676.0 713.9 678.2 715.7 679.7C717.5 681.2 719.2 682.4 721.2 683.8C723.2 685.2 726.2 686.1 728.0 687.9C729.8 689.7 731.3 692.0 732.1 694.7C732.9 697.4 732.7 702.1 732.8 704.0C732.9 705.9 732.8 705.7 732.8 706.0M274.2 558.5C274.2 557.0 276.1 556.6 277.5 557.2C278.9 557.9 280.8 561.2 282.5 562.2C284.2 563.3 285.8 564.3 287.5 563.5C289.2 562.7 291.0 558.9 292.5 557.2C294.0 555.6 295.1 553.7 296.2 553.5C297.4 553.3 299.1 554.3 299.5 556.0C299.9 557.7 299.5 561.0 298.8 563.5C298.0 566.0 296.7 569.3 295.0 571.0C293.3 572.7 291.0 573.3 288.8 573.5C286.5 573.7 283.1 573.5 281.2 572.2C279.4 571.0 278.7 568.3 277.5 566.0C276.3 563.7 274.2 560.0 274.2 558.5ZM518.5 577.2C519.3 575.6 518.9 573.9 521.0 572.2C523.1 570.6 526.8 568.3 531.0 567.2C535.2 566.2 541.8 565.8 546.0 566.0C550.2 566.2 552.7 566.6 556.0 568.5C559.3 570.4 563.1 574.3 566.0 577.2C568.9 580.2 571.6 583.3 573.5 586.0C575.4 588.7 577.2 590.6 577.2 593.5C577.2 596.4 575.4 600.2 573.5 603.5C571.6 606.8 568.9 610.2 566.0 613.5C563.1 616.8 560.2 620.4 556.0 623.5C551.8 626.6 546.0 629.8 541.0 632.2C536.0 634.8 531.0 636.7 526.0 638.5C521.0 640.3 515.2 642.4 511.0 643.0C506.8 643.6 504.3 643.4 501.0 642.2C497.7 641.1 493.5 638.5 491.0 636.0C488.5 633.5 487.7 629.3 486.0 627.2C484.3 625.2 482.7 623.7 481.0 623.5C479.3 623.3 477.5 624.3 476.0 626.0C474.5 627.7 473.9 631.2 472.2 633.5C470.6 635.8 469.1 638.1 466.0 639.8C462.9 641.4 458.1 643.1 453.5 643.5C448.9 643.9 443.1 643.3 438.5 642.2C433.9 641.2 429.3 639.5 426.0 637.2C422.7 635.0 420.0 632.0 418.5 628.5C417.0 625.0 416.8 619.8 417.2 616.0C417.7 612.2 419.1 609.1 421.0 606.0C422.9 602.9 425.6 599.5 428.5 597.2C431.4 595.0 434.8 593.3 438.5 592.2C442.2 591.2 446.4 591.8 451.0 591.0C455.6 590.2 461.8 587.2 466.0 587.2C470.2 587.2 473.5 590.0 476.0 591.0C478.5 592.0 478.9 593.6 481.0 593.0C483.1 592.4 485.6 588.0 488.5 587.2C491.4 586.5 495.2 588.5 498.5 588.5C501.8 588.5 505.6 588.3 508.5 587.2C511.4 586.2 514.3 583.9 516.0 582.2C517.7 580.6 517.7 578.9 518.5 577.2ZM823.0 385.0C823.0 383.7 824.8 381.7 826.6 380.6C828.4 379.5 831.5 378.8 833.9 378.4C836.3 378.0 839.9 378.0 841.3 378.4C842.6 378.8 842.5 379.5 842.0 380.6C841.5 381.7 839.9 383.8 838.3 385.0C836.7 386.2 834.5 387.3 832.5 387.9C830.5 388.5 828.2 389.1 826.6 388.6C825.0 388.1 823.0 386.3 823.0 385.0ZM902.8 325.6C902.8 325.0 904.7 324.1 905.7 324.2C906.7 324.3 908.6 325.8 908.6 326.4C908.6 327.0 906.7 327.9 905.7 327.8C904.7 327.7 902.8 326.2 902.8 325.6ZM757.0 513.5C757.0 512.5 760.5 509.1 762.0 508.5C763.5 507.9 765.8 508.7 765.8 509.8C765.8 510.8 763.5 514.1 762.0 514.8C760.5 515.4 757.0 514.5 757.0 513.5ZM807.0 547.5C807.6 546.7 809.7 545.8 811.0 546.0C812.3 546.2 815.0 547.5 815.0 548.5C815.0 549.5 812.2 551.6 811.0 552.0C809.8 552.4 808.2 551.8 807.5 551.0C806.8 550.2 806.4 548.3 807.0 547.5ZM789.0 529.8C789.3 528.3 791.8 526.3 795.0 524.8C798.2 523.3 804.1 521.2 808.2 520.7C812.3 520.2 815.7 520.5 819.8 521.5C823.9 522.5 829.1 525.1 833.0 526.5C836.9 527.9 839.4 529.2 843.0 529.8C846.6 530.3 851.7 529.4 854.7 529.8C857.8 530.2 861.0 531.2 861.3 532.3C861.6 533.4 858.8 535.4 856.3 536.4C853.8 537.4 850.3 538.2 846.4 538.1C842.5 538.0 837.4 536.2 833.0 535.6C828.6 535.0 824.8 534.8 819.8 534.8C814.8 534.8 807.6 535.7 803.2 535.6C798.8 535.5 795.6 535.0 793.2 534.0C790.8 533.0 788.7 531.3 789.0 529.8ZM663.0 561.0C662.8 559.0 665.9 555.5 668.2 553.7C670.5 551.9 674.3 550.4 677.0 550.0C679.7 549.6 682.1 550.2 684.3 551.5C686.5 552.8 687.8 555.7 690.2 558.0C692.7 560.3 696.1 563.3 699.0 565.4C701.9 567.5 705.5 569.3 707.7 570.5C709.9 571.7 711.9 571.9 712.1 572.7C712.4 573.5 711.4 575.1 709.2 575.4C707.0 575.6 702.4 575.1 699.0 574.2C695.6 573.3 692.1 570.8 688.7 569.8C685.3 568.8 681.6 569.0 678.4 568.3C675.2 567.6 672.2 566.6 669.6 565.4C667.0 564.2 663.2 563.0 663.0 561.0Z" fill="none" stroke="#0505fa" stroke-width="1.6" stroke-linejoin="round" stroke-linecap="round"/>
<path d="M920.5 300.5l3 1-1.5 2zM705.5 613.5l3 0.5-1 1.5zM666.5 573l2.5-2.5 1.5 3z" fill="#0a0af5"/>
<!-- 70_borders.svg -->
<path d="M334.0 351.0 L332.5 357.5 L329.0 362.5 L330.0 372.5 L325.0 380.0 L315.0 383.8 L311.0 392.5 L300.0 395.0 L295.0 400.0 L287.5 407.5 L280.0 403.8 L275.0 400.0 L265.0 397.5 L255.0 401.0 L240.0 407.5 L231.0 408.8 L191.0 392.0 L182.5 383.8M311.0 392.5 L315.0 396.0 L316.0 406.0 L322.5 407.5 L325.0 403.8 L329.5 407.5 L329.5 436.0 L328.8 436.0 L326.2 448.5 L330.0 459.8 L340.0 467.2 L347.5 471.0 L350.0 482.2 L350.0 506.0M277.5 486.0 L282.5 481.0 L295.0 479.8 L300.0 474.8 L310.0 472.2 L325.0 471.0 L332.5 468.5 L337.5 473.5 L342.5 477.2 L347.5 481.0M445.5 560.0 L433.8 543.7 L430.3 543.7 L394.6 508.0 L395.2 490.4 L410.4 474.0 L418.6 468.1 L424.8 467.2 L426.0 462.2 L432.2 461.0 L441.0 446.5 L452.2 445.5 L456.0 453.5 L462.2 459.8 L464.8 466.0 L483.5 473.5 L506.0 482.2 L518.5 488.5 L531.0 493.5 L549.8 496.5 L586.0 498.0 L627.2 496.0 L662.0 494.0 L678.4 493.0M464.8 466.0 L481.0 456.0 L494.8 446.0 L491.0 438.5 L489.8 436.0 L488.5 436.0 L483.5 427.5 L474.8 421.0 L466.0 412.5 L462.0 405.0 L467.0 395.0 L474.8 388.8 L471.0 380.0 L466.0 370.0 L464.8 360.0 L458.5 351.0 L453.5 352.5M531.0 265.0 L532.0 275.0 L534.8 278.8 L531.0 285.0 L530.5 297.5 L536.0 305.0 L529.8 307.5 L529.8 325.0 L532.0 327.5 L528.5 332.5 L526.0 341.0 L519.8 343.8 L522.0 352.5 L521.0 357.5 L524.8 365.0 L531.0 367.5 L538.5 372.5 L546.0 373.8 L551.0 380.0 L566.0 376.0 L556.0 390.0 L546.0 400.0 L531.0 412.5 L516.0 420.0 L506.0 420.0 L502.0 427.5 L496.0 430.0 L493.5 436.0 L489.8 436.0M532.0 327.5 L541.0 328.8 L552.0 330.0 L553.5 325.0 L562.0 327.5 L566.0 318.8 L572.0 312.5 L576.0 305.0 L573.5 297.5 L578.5 291.0 L586.0 292.5 L591.0 288.8 L596.0 293.8 L606.0 295.0 L613.5 298.8 L621.0 297.5 L626.0 307.5 L641.0 307.5 L653.5 315.0 L661.0 317.5 L662.0 320.0 L662.0 330.0 L667.0 333.0 L664.0 338.0 L667.0 342.5 L662.0 345.0 L664.5 355.0 L664.5 365.0 L674.5 367.5 L679.5 372.5 L685.8 377.5 L683.2 381.2 L689.5 377.5 L699.5 373.8 L712.0 370.0 L714.5 363.8 L720.8 361.2 L727.0 366.2 L729.5 371.2 L737.0 373.8 L744.5 372.5 L748.2 365.0 L745.8 355.0 L737.0 350.0 L734.5 345.0 L737.0 340.0 L744.5 336.2 L750.8 328.8M649.4 291.4 L652.5 298.4 L651.0 304.0 L655.6 306.2 L658.8 312.5 L661.0 317.2M566.0 376.0 L578.5 368.8 L578.5 382.5 L586.0 383.8 L591.0 378.8 L598.5 381.0 L603.5 387.5 L613.5 377.5 L621.0 372.5 L627.0 367.5 L631.0 375.0 L638.5 370.0 L646.0 365.0 L652.0 360.0 L656.0 352.5 L664.5 350.0M556.0 390.0 L566.0 412.5 L581.0 420.0 L596.0 427.5 L608.5 420.0 L613.5 406.0 L623.5 410.0 L636.0 415.0 L639.8 436.0 L634.8 436.0 L637.2 441.0 L634.8 448.5 L627.2 452.2 L625.5 461.0 L625.5 481.0 L627.2 496.0M729.5 371.2 L723.2 380.0 L715.8 387.5 L714.5 395.0 L722.0 402.5 L720.8 410.0 L728.2 415.0 L727.0 425.0 L733.2 428.8 L729.5 436.0 L728.2 436.0 L729.5 443.5 L726.5 448.5 L728.2 453.5 L737.0 454.8 L740.8 452.2 L749.5 447.2 L762.0 452.2 L769.5 451.0 L777.0 456.0 L784.5 453.5 L792.0 456.0 L802.0 459.8 L812.0 459.8 L822.0 467.2 L828.2 477.2 L832.0 482.2M740.0 453.0 L740.4 459.3 L741.0 466.0M840.8 436.0 L837.0 436.0 L835.8 451.0 L833.2 466.0 L832.0 482.2 L839.5 484.8 L837.0 489.8M793.2 345.0 L797.3 342.5 L804.6 341.7 L810.5 339.5 L812.0 336.6 L816.4 335.2 L818.6 333.4 L825.2 333.7 L831.0 336.6 L836.9 341.0 L840.5 346.9 L848.6 350.5M793.2 345.0 L794.4 346.9 L796.6 354.2 L791.5 358.6 L794.4 364.4 L800.3 370.3 L804.6 374.7 L812.0 379.1 L819.3 382.0 L823.0 387.9 L828.8 390.1 L830.3 395.2 L835.4 399.6 L839.8 402.5 L839.0 412.8 L835.4 415.7 L835.4 423.0 L840.5 428.9 L840.5 433.3 L836.9 436.2 L835.8 451.0M549.8 496.5 L551.0 508.5 L552.2 518.5 L557.2 522.2 L557.2 543.5 L566.0 549.8 L569.8 552.2 L564.8 558.5 L562.2 571.0 L564.8 574.8 L553.5 581.0 L538.5 588.5 L528.5 594.8M587.2 498.5 L593.5 513.5 L598.5 528.5 L601.0 543.5 L598.5 558.5 L594.8 567.2 L603.5 572.2 L611.0 581.0 L618.5 591.0 L623.5 592.2M741.0 465.7 L729.2 468.0 L717.5 469.0M678.4 511.0 L675.5 512.0 L675.5 517.0 L680.4 517.0 L680.4 512.0 L678.4 511.0M680.4 517.0 L686.2 523.8 L691.0 530.0 L697.0 533.5 L705.8 538.5 L707.0 546.0 L703.2 556.0 L709.5 558.5 L712.0 566.0 L718.2 569.8M717.5 469.0 L717.9 480.8 L719.5 494.5 L722.4 502.3 L730.2 508.0 L735.0 517.9 L739.0 525.7 L742.0 528.5 L748.2 529.8 L749.5 534.8 L755.8 536.0 L757.0 541.0 L772.0 538.5 L787.0 534.8 L792.0 531.0 L797.0 534.8 L808.2 534.8" fill="none" stroke="#000" stroke-width="2.15" stroke-linejoin="round" stroke-linecap="round"/>
<path d="M695.8 268.8 L695.8 270.0 L712.0 282.5 L727.0 297.5 L742.0 317.5 L754.5 333.8 L767.0 350.0 L772.0 345.0 L773.2 336.2 L779.5 333.8 L784.5 341.2 L789.5 340.0 L793.2 345.0M848.6 350.5 L854.5 352.0 L858.1 357.1 L861.8 360.0 L869.1 361.5 L876.4 361.5 L880.8 356.4 L883.7 352.0 L886.7 351.3 L887.4 356.4 L892.5 362.3 L899.9 365.2 L898.4 367.4 L892.5 370.3 L891.0 374.7 L893.3 379.1 L891.0 385.0 L885.2 387.9 L878.6 391.5 L877.2 399.6 L879.4 408.4 L883.7 418.6 L884.5 423.8 L880.8 427.4 L876.4 430.4 L873.5 432.6 L869.8 437.7 L869.0 434.8 L863.2 432.6 L858.8 435.5 L851.5 437.0 L847.9 436.2 L840.5 433.3M839.5 484.8 L824.5 489.8 L812.0 496.0 L800.8 504.8 L802.0 516.0 L805.8 528.5 L809.5 536.0 L814.5 546.0 L810.8 551.0 L813.2 556.0 L807.0 558.5 L807.0 566.0 L810.8 578.5M182.5 383.8 L196.0 370.0 L194.0 365.0 L197.5 352.5 L200.0 347.5 L209.0 342.5 L211.0 336.0 L215.0 335.0 L219.0 340.0 L222.5 352.5 L225.0 355.5 L232.5 353.8 L234.0 340.0 L233.0 335.5 L246.0 331.0 L249.0 326.0 L260.0 323.8 L267.5 320.0 L275.0 313.8 L277.5 316.0 L285.0 317.5 L287.5 322.5 L294.0 319.5 L300.0 318.8 L302.5 325.0 L312.5 327.5 L320.0 330.0 L322.5 336.0 L329.0 342.5 L332.5 350.0 L336.0 352.5 L342.5 350.0 L350.0 358.8 L360.0 356.0 L362.5 352.5 L370.0 348.8 L375.0 351.0 L385.0 350.0 L390.0 353.8 L396.0 350.0 L402.5 358.8 L406.0 360.0 L411.0 363.8 L422.0 367.5 L428.5 361.0 L431.0 365.0 L438.5 367.5 L452.0 363.8 L453.5 352.5M191.0 392.0 L189.0 400.0 L194.0 405.0 L196.0 402.5 L207.5 410.0 L209.0 417.5 L212.5 420.0 L214.5 436.0 L206.2 438.5 L212.5 446.0 L222.5 453.5 L227.5 451.0 L235.0 446.0 L247.5 441.0 L260.0 439.8 L270.0 442.2 L280.0 448.5 L286.2 454.8 L286.2 463.5 L280.0 471.0 L281.2 478.5 L277.5 486.0 L267.5 484.8 L255.0 486.0 L246.2 489.8 L241.2 494.8 L243.8 503.5 L248.8 507.2 L238.8 506.0 L235.0 502.2 L227.5 501.0 L225.0 506.0 L232.5 512.2 L236.2 521.0 L237.5 542.2 L243.8 546.0 L248.8 553.5 L257.5 556.0 L262.5 559.8 L260.0 566.0 L256.2 573.5 L253.8 583.5M253.8 583.5 L265.0 577.2 L280.0 574.0 L290.0 574.8 L297.5 581.0 L303.8 591.0 L307.5 601.0 L312.5 608.5 L322.5 608.0 L325.0 586.0 L328.8 556.0 L332.5 531.0 L336.2 509.2 L362.5 504.8 L386.4 500.4 L394.6 508.0 L430.3 543.7 L433.8 543.7 L445.5 560.0 L447.2 562.2 L468.5 559.8 L488.5 559.8 L506.0 557.2 L509.8 558.5 L514.8 568.5 L521.0 581.0 L527.2 579.8 L528.5 594.8 L526.0 598.5 L525.5 606.0 L536.0 608.5 L537.2 626.0 L553.5 627.2 L566.0 629.8 L564.8 637.2 L571.0 642.2 L578.5 644.8 L579.8 642.2 L576.0 633.5 L581.0 631.0 L591.0 621.0 L603.5 612.2 L613.5 606.0 L623.5 592.2 L629.8 582.2 L641.0 581.0 L656.0 583.5 L662.0 586.0 L670.8 587.2 L674.5 588.5 L673.2 581.0 L674.5 572.2 L679.5 568.5 L687.0 564.8 L697.0 567.2 L704.5 571.0 L712.0 572.2 L719.5 571.0 L737.0 569.8 L747.0 567.2 L762.0 563.5 L772.0 562.2 L782.0 563.5 L787.0 567.2 L799.5 574.8 L810.8 578.5M453.5 352.5 L443.5 343.8 L438.5 340.0 L429.8 332.5 L443.5 325.0 L446.0 316.0 L443.5 312.5 L449.8 305.0 L466.0 303.8 L462.0 300.0 L452.0 297.5 L451.0 292.5 L457.0 290.0 L448.5 286.0 L453.5 280.0 L456.0 276.0 L471.0 277.5 L474.8 280.0 L481.0 276.0 L493.5 272.5 L513.5 268.8 L518.5 265.0 L527.0 263.8 L531.0 265.0 L546.0 260.0 L556.0 256.0 L563.5 253.8 L566.0 248.8 L576.0 242.5 L586.0 244.5 L596.0 247.0 L603.5 245.0 L608.5 250.0 L609.0 260.0 L611.0 266.0 L609.8 275.0 L618.5 277.5 L626.0 271.0 L631.0 276.0 L638.5 278.8 L646.0 276.0 L652.0 275.0 L651.0 282.5 L646.2 287.5 L649.4 291.9 L663.4 289.0 L666.5 283.6 L677.0 278.8 L680.8 271.2 L689.5 266.2 L694.5 262.5 L700.8 259.5 L702.0 261.2 L699.5 266.2 L695.8 268.8" fill="none" stroke="#1e1e1e" stroke-width="1.65" stroke-linejoin="round" stroke-linecap="round"/>
<!-- 80_cities.svg -->
<rect x="481.8" y="283.2" width="48.4" height="22.3" fill="none" stroke="#5c5cff" stroke-width="0.9"/><text class="cl" x="506.0" y="301.1" textLength="41.6" lengthAdjust="spacingAndGlyphs">1010</text>
<rect x="851.2" y="294.2" width="48.4" height="22.3" fill="none" stroke="#5c5cff" stroke-width="0.9"/><text class="cl" x="875.4" y="312.1" textLength="41.6" lengthAdjust="spacingAndGlyphs">1000</text>
<rect x="689.8" y="333.2" width="48.4" height="22.3" fill="none" stroke="#5c5cff" stroke-width="0.9"/><text class="cl" x="714.0" y="351.1" textLength="41.6" lengthAdjust="spacingAndGlyphs">1010</text>
<rect x="501.2" y="558.0" width="48.4" height="22.3" fill="none" stroke="#5c5cff" stroke-width="0.9"/><text class="cl" x="525.4" y="575.9" textLength="41.6" lengthAdjust="spacingAndGlyphs">1010</text>
<rect x="591.8" y="655.5" width="48.4" height="22.3" fill="none" stroke="#5c5cff" stroke-width="0.9"/><text class="cl" x="616.0" y="673.4" textLength="41.6" lengthAdjust="spacingAndGlyphs">1010</text>
<rect x="731.8" y="540.5" width="48.4" height="22.3" fill="none" stroke="#5c5cff" stroke-width="0.9"/><text class="cl" x="756.0" y="558.4" textLength="41.6" lengthAdjust="spacingAndGlyphs">1010</text>
<rect x="819.0" y="544.0" width="48.4" height="22.3" fill="none" stroke="#5c5cff" stroke-width="0.9"/><text class="cl" x="843.2" y="561.9" textLength="41.6" lengthAdjust="spacingAndGlyphs">1010</text>
<rect x="681.0" y="633.5" width="48.4" height="22.3" fill="none" stroke="#5c5cff" stroke-width="0.9"/><text class="cl" x="705.2" y="651.4" textLength="41.6" lengthAdjust="spacingAndGlyphs">1010</text>
<circle cx="281.2" cy="330.7" r="4.3" fill="#000"/><text class="city" x="285.9" y="334.2">Uralsk</text>
<circle cx="376.5" cy="370.9" r="4.3" fill="#000"/><text class="city" x="381.1" y="374.4">Aktobe</text>
<circle cx="268.0" cy="440.4" r="4.3" fill="#000"/><text class="city" x="272.6" y="443.9">Atyrau</text>
<circle cx="236.8" cy="528.0" r="4.3" fill="#000"/><text class="city" x="241.3" y="531.5">Aktau</text>
<circle cx="490.2" cy="301.9" r="4.3" fill="#000"/><text class="city" x="494.9" y="305.4">Kostanay</text>
<circle cx="578.5" cy="261.9" r="4.3" fill="#000"/><text class="city" x="583.1" y="265.4">Petropavlovsk</text>
<circle cx="584.2" cy="300.2" r="4.3" fill="#000"/><text class="city" x="588.9" y="303.7">Kokshetau</text>
<circle cx="708.8" cy="317.2" r="4.3" fill="#000"/><text class="city" x="713.4" y="320.7">Pavlodar</text>
<circle cx="651.8" cy="390.9" r="4.3" fill="#000"/><text class="city" x="656.4" y="394.4">Karaganda</text>
<circle cx="816.0" cy="362.2" r="4.3" fill="#000"/><text class="city" x="820.6" y="365.7">Ustkamen</text>
<circle cx="558.0" cy="448.7" r="4.3" fill="#000"/><text class="city" x="562.6" y="452.2">Zheskazgan</text>
<circle cx="516.5" cy="530.0" r="4.3" fill="#000"/><text class="city" x="521.1" y="533.5">Kyzylorda</text>
<circle cx="599.8" cy="597.0" r="4.3" fill="#000"/><text class="city" x="604.4" y="600.5">Shimkent</text>
<circle cx="630.5" cy="579.2" r="4.3" fill="#000"/><text class="city" x="635.1" y="582.7">Taraz</text>
<circle cx="762.5" cy="508.7" r="4.3" fill="#000"/><text class="city" x="767.1" y="512.2">Taldykurgan</text>
<path d="M620.0 350.8L621.3 354.1L624.9 354.3L622.1 356.6L623.0 360.0L620.0 358.1L617.0 360.0L617.9 356.6L615.1 354.3L618.7 354.1Z" fill="none" stroke="#f80808" stroke-width="1.9" stroke-linejoin="miter"/><text class="cap" x="625.5" y="359.4">Astana</text>
<path d="M740.4 555.8L741.7 559.1L745.3 559.3L742.5 561.6L743.4 565.0L740.4 563.1L737.4 565.0L738.3 561.6L735.5 559.3L739.1 559.1Z" fill="none" stroke="#f80808" stroke-width="1.9" stroke-linejoin="miter"/><text class="cap" x="746.4" y="563.5">Almaty</text>
</g>
<g fill="none" stroke="#222" stroke-width="1.3">
<rect x="153.5" y="182.5" width="784.0" height="522.0"/>
<path d="M137.6 217.3H153.5M137.6 273.8H153.5M137.6 330.6H153.5M137.6 387.0H153.5M137.6 443.0H153.5M137.6 499.0H153.5M137.6 555.0H153.5M137.6 611.1H153.5M137.6 667.4H153.5M174.6 704.5V720.3M285.9 704.5V720.3M394.9 704.5V720.3M502.8 704.5V720.3M609.9 704.5V720.3M717.7 704.5V720.3M826.8 704.5V720.3"/>
</g>
<text class="ax" x="85.4" y="223.6" textLength="40.3" lengthAdjust="spacingAndGlyphs">54°N</text>
<text class="ax" x="85.4" y="280.1" textLength="40.3" lengthAdjust="spacingAndGlyphs">52°N</text>
<text class="ax" x="85.4" y="336.9" textLength="40.3" lengthAdjust="spacingAndGlyphs">50°N</text>
<text class="ax" x="85.4" y="393.3" textLength="40.3" lengthAdjust="spacingAndGlyphs">48°N</text>
<text class="ax" x="85.4" y="449.3" textLength="40.3" lengthAdjust="spacingAndGlyphs">46°N</text>
<text class="ax" x="85.4" y="505.3" textLength="40.3" lengthAdjust="spacingAndGlyphs">44°N</text>
<text class="ax" x="85.4" y="561.3" textLength="40.3" lengthAdjust="spacingAndGlyphs">42°N</text>
<text class="ax" x="85.4" y="617.4" textLength="40.3" lengthAdjust="spacingAndGlyphs">40°N</text>
<text class="ax" x="85.4" y="673.7" textLength="40.3" lengthAdjust="spacingAndGlyphs">38°N</text>
<text class="ax" x="155.4" y="746.6" textLength="38.8" lengthAdjust="spacingAndGlyphs">50°E</text>
<text class="ax" x="266.7" y="746.6" textLength="38.8" lengthAdjust="spacingAndGlyphs">55°E</text>
<text class="ax" x="375.7" y="746.6" textLength="38.8" lengthAdjust="spacingAndGlyphs">60°E</text>
<text class="ax" x="483.6" y="746.6" textLength="38.8" lengthAdjust="spacingAndGlyphs">65°E</text>
<text class="ax" x="590.7" y="746.6" textLength="38.8" lengthAdjust="spacingAndGlyphs">70°E</text>
<text class="ax" x="698.5" y="746.6" textLength="38.8" lengthAdjust="spacingAndGlyphs">75°E</text>
<text class="ax" x="807.6" y="746.6" textLength="38.8" lengthAdjust="spacingAndGlyphs">80°E</text>
<text class="t2" style="font-size:14.6px" x="450.6" y="808.5" textLength="190.4" lengthAdjust="spacingAndGlyphs">Surface Air Temperature (C)</text>
<rect x="295.40" y="820.0" width="71.50" height="27.5" fill="#4f007d" stroke="#333" stroke-width="0.9"/>
<rect x="366.90" y="820.0" width="71.50" height="27.5" fill="#663399" stroke="#333" stroke-width="0.9"/>
<rect x="438.40" y="820.0" width="71.50" height="27.5" fill="#003399" stroke="#333" stroke-width="0.9"/>
<rect x="509.90" y="820.0" width="71.50" height="27.5" fill="#3399ff" stroke="#333" stroke-width="0.9"/>
<rect x="581.40" y="820.0" width="71.50" height="27.5" fill="#c8e6ff" stroke="#333" stroke-width="0.9"/>
<rect x="652.90" y="820.0" width="71.50" height="27.5" fill="#ffffff" stroke="#333" stroke-width="0.9"/>
<rect x="724.40" y="820.0" width="71.50" height="27.5" fill="#ffffc8" stroke="#333" stroke-width="0.9"/>
<text class="cb" x="366.9" y="877.7">-20</text>
<text class="cb" x="438.4" y="877.7">-15</text>
<text class="cb" x="509.9" y="877.7">-10</text>
<text class="cb" x="581.4" y="877.7">-5</text>
<text class="cb" x="652.9" y="877.7">0</text>
<text class="cb" x="724.4" y="877.7">5</text>
</svg>
</body></html>
